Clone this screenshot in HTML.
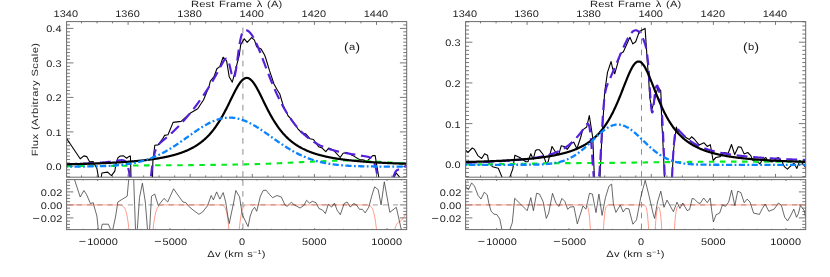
<!DOCTYPE html>
<html><head><meta charset="utf-8"><title>Spectral fits</title>
<style>html,body{margin:0;padding:0;background:#fff}svg{display:block}</style></head>
<body>
<svg width="830" height="277" viewBox="0 0 830 277" font-family="Liberation Sans, sans-serif" fill="#1c1c1c" text-rendering="geometricPrecision">
<rect width="830" height="277" fill="#fff"/>
<clipPath id="c0"><rect x="66.6" y="21.6" width="340.1" height="155.6"/></clipPath>
<clipPath id="r0"><rect x="66.6" y="179.6" width="340.1" height="50"/></clipPath>
<path d="M81.53 21.6 v1.8 M81.53 177.2 v-1.8 M97.05 21.6 v1.8 M97.05 177.2 v-1.8 M112.58 21.6 v1.8 M112.58 177.2 v-1.8 M128.1 21.6 v3.3 M128.1 177.2 v-3.3 M143.62 21.6 v1.8 M143.62 177.2 v-1.8 M159.15 21.6 v1.8 M159.15 177.2 v-1.8 M174.68 21.6 v1.8 M174.68 177.2 v-1.8 M190.2 21.6 v3.3 M190.2 177.2 v-3.3 M205.73 21.6 v1.8 M205.73 177.2 v-1.8 M221.25 21.6 v1.8 M221.25 177.2 v-1.8 M236.78 21.6 v1.8 M236.78 177.2 v-1.8 M252.3 21.6 v3.3 M252.3 177.2 v-3.3 M267.82 21.6 v1.8 M267.82 177.2 v-1.8 M283.35 21.6 v1.8 M283.35 177.2 v-1.8 M298.88 21.6 v1.8 M298.88 177.2 v-1.8 M314.4 21.6 v3.3 M314.4 177.2 v-3.3 M329.93 21.6 v1.8 M329.93 177.2 v-1.8 M345.45 21.6 v1.8 M345.45 177.2 v-1.8 M360.98 21.6 v1.8 M360.98 177.2 v-1.8 M376.5 21.6 v3.3 M376.5 177.2 v-3.3 M392.02 21.6 v1.8 M392.02 177.2 v-1.8 M68.66 179.6 v0.8 M68.66 229.6 v-0.8 M83.13 179.6 v0.8 M83.13 229.6 v-0.8 M97.6 179.6 v1.4 M97.6 229.6 v-1.4 M112.07 179.6 v0.8 M112.07 229.6 v-0.8 M126.54 179.6 v0.8 M126.54 229.6 v-0.8 M141.01 179.6 v0.8 M141.01 229.6 v-0.8 M155.48 179.6 v0.8 M155.48 229.6 v-0.8 M169.95 179.6 v1.4 M169.95 229.6 v-1.4 M184.42 179.6 v0.8 M184.42 229.6 v-0.8 M198.89 179.6 v0.8 M198.89 229.6 v-0.8 M213.36 179.6 v0.8 M213.36 229.6 v-0.8 M227.83 179.6 v0.8 M227.83 229.6 v-0.8 M242.3 179.6 v1.4 M242.3 229.6 v-1.4 M256.77 179.6 v0.8 M256.77 229.6 v-0.8 M271.24 179.6 v0.8 M271.24 229.6 v-0.8 M285.71 179.6 v0.8 M285.71 229.6 v-0.8 M300.18 179.6 v0.8 M300.18 229.6 v-0.8 M314.65 179.6 v1.4 M314.65 229.6 v-1.4 M329.12 179.6 v0.8 M329.12 229.6 v-0.8 M343.59 179.6 v0.8 M343.59 229.6 v-0.8 M358.06 179.6 v0.8 M358.06 229.6 v-0.8 M372.53 179.6 v0.8 M372.53 229.6 v-0.8 M387 179.6 v1.4 M387 229.6 v-1.4 M401.47 179.6 v0.8 M401.47 229.6 v-0.8 M66.6 176.75 h3.4 M406.7 176.75 h-3.4 M66.6 173.3 h3.4 M406.7 173.3 h-3.4 M66.6 169.85 h3.4 M406.7 169.85 h-3.4 M66.6 166.4 h6.8 M406.7 166.4 h-6.8 M66.6 162.95 h3.4 M406.7 162.95 h-3.4 M66.6 159.5 h3.4 M406.7 159.5 h-3.4 M66.6 156.05 h3.4 M406.7 156.05 h-3.4 M66.6 152.6 h3.4 M406.7 152.6 h-3.4 M66.6 149.15 h3.4 M406.7 149.15 h-3.4 M66.6 145.7 h3.4 M406.7 145.7 h-3.4 M66.6 142.25 h3.4 M406.7 142.25 h-3.4 M66.6 138.8 h3.4 M406.7 138.8 h-3.4 M66.6 135.35 h3.4 M406.7 135.35 h-3.4 M66.6 131.9 h6.8 M406.7 131.9 h-6.8 M66.6 128.45 h3.4 M406.7 128.45 h-3.4 M66.6 125 h3.4 M406.7 125 h-3.4 M66.6 121.55 h3.4 M406.7 121.55 h-3.4 M66.6 118.1 h3.4 M406.7 118.1 h-3.4 M66.6 114.65 h3.4 M406.7 114.65 h-3.4 M66.6 111.2 h3.4 M406.7 111.2 h-3.4 M66.6 107.75 h3.4 M406.7 107.75 h-3.4 M66.6 104.3 h3.4 M406.7 104.3 h-3.4 M66.6 100.85 h3.4 M406.7 100.85 h-3.4 M66.6 97.4 h6.8 M406.7 97.4 h-6.8 M66.6 93.95 h3.4 M406.7 93.95 h-3.4 M66.6 90.5 h3.4 M406.7 90.5 h-3.4 M66.6 87.05 h3.4 M406.7 87.05 h-3.4 M66.6 83.6 h3.4 M406.7 83.6 h-3.4 M66.6 80.15 h3.4 M406.7 80.15 h-3.4 M66.6 76.7 h3.4 M406.7 76.7 h-3.4 M66.6 73.25 h3.4 M406.7 73.25 h-3.4 M66.6 69.8 h3.4 M406.7 69.8 h-3.4 M66.6 66.35 h3.4 M406.7 66.35 h-3.4 M66.6 62.9 h6.8 M406.7 62.9 h-6.8 M66.6 59.45 h3.4 M406.7 59.45 h-3.4 M66.6 56 h3.4 M406.7 56 h-3.4 M66.6 52.55 h3.4 M406.7 52.55 h-3.4 M66.6 49.1 h3.4 M406.7 49.1 h-3.4 M66.6 45.65 h3.4 M406.7 45.65 h-3.4 M66.6 42.2 h3.4 M406.7 42.2 h-3.4 M66.6 38.75 h3.4 M406.7 38.75 h-3.4 M66.6 35.3 h3.4 M406.7 35.3 h-3.4 M66.6 31.85 h3.4 M406.7 31.85 h-3.4 M66.6 28.4 h6.8 M406.7 28.4 h-6.8 M66.6 24.95 h3.4 M406.7 24.95 h-3.4 M66.6 227.65 h3.4 M406.7 227.65 h-3.4 M66.6 224.4 h3.4 M406.7 224.4 h-3.4 M66.6 221.15 h3.4 M406.7 221.15 h-3.4 M66.6 217.9 h6.8 M406.7 217.9 h-6.8 M66.6 214.65 h3.4 M406.7 214.65 h-3.4 M66.6 211.4 h3.4 M406.7 211.4 h-3.4 M66.6 208.15 h3.4 M406.7 208.15 h-3.4 M66.6 204.9 h6.8 M406.7 204.9 h-6.8 M66.6 201.65 h3.4 M406.7 201.65 h-3.4 M66.6 198.4 h3.4 M406.7 198.4 h-3.4 M66.6 195.15 h3.4 M406.7 195.15 h-3.4 M66.6 191.9 h6.8 M406.7 191.9 h-6.8 M66.6 188.65 h3.4 M406.7 188.65 h-3.4 M66.6 185.4 h3.4 M406.7 185.4 h-3.4 M66.6 182.15 h3.4 M406.7 182.15 h-3.4" stroke="#6a6a6a" stroke-width="0.9" fill="none"/>
<g clip-path="url(#c0)" fill="none" stroke-linejoin="round">
<path d="M242.9 27.5 V177.2" stroke="#8e8e8e" stroke-width="1" stroke-dasharray="5.7 5.35"/>
<path d="M66.6 138.5 L80.2 158.8 L83.9 155.9 L86.7 156.6 L89.6 161.7 L93.3 161.6 L94 163.2 L96.9 168.5 L98.3 176.5 L99.7 182 L101.2 177.5 L101.9 173 L107.7 172.1 L110 174.3 L111.5 175.6 L114.8 171.1 L116 164 L118 157.6 L120.3 156 L123.6 155.9 L126.7 158.2 L129.1 156.4 L130.4 156 L131 176.7 L131.4 200 L152.1 200 L152.5 176.7 L152.9 160.8 L154.8 145.2 L158.1 144.9 L162.8 138.7 L164.5 135.4 L168 134.7 L173.1 122.4 L181.1 121.4 L190.5 113 L197.7 108.7 L203.5 100 L208.9 86.8 L210.4 81 L214 76.7 L216.9 68.7 L219.8 66.6 L223.1 57.2 L226.6 60.8 L229.2 76.7 L232.3 82.2 L234.9 72.3 L239.3 55 L240.7 44.6 L244.3 38.8 L247.2 42.4 L251.6 37.6 L254.5 40.2 L256.6 46.7 L261 48.9 L264.6 55 L266 59 L269.6 70.9 L274 84 L277.3 90 L279.8 94 L283.1 105.2 L288.2 116 L291.1 118.9 L297.9 128.8 L301.9 133 L305.5 133.7 L309.9 138.7 L313.5 139.5 L318.6 146.7 L322.2 148.1 L325.8 151.7 L328.7 148.1 L333.7 150.3 L340.2 157.5 L343.1 153.2 L346.7 152.5 L352.5 155.4 L359.8 159.7 L362.6 159.7 L367 161.1 L370.2 158.1 L372.7 155.6 L375.2 155.6 L376.2 162.1 L378.7 176.8 L380 195 L392 195 L394.3 177 L396.2 173 L399.4 176.8 L402 186 L407 192" stroke="#000" stroke-width="1.1"/>
<path d="M66.6 166.1 L67.1 166.1 L67.6 166.1 L68.1 166.09 L68.6 166.09 L69.1 166.09 L69.6 166.09 L70.1 166.09 L70.6 166.09 L71.1 166.09 L71.6 166.09 L72.1 166.09 L72.6 166.09 L73.1 166.09 L73.6 166.09 L74.1 166.09 L74.6 166.08 L75.1 166.08 L75.6 166.08 L76.1 166.08 L76.6 166.08 L77.1 166.08 L77.6 166.08 L78.1 166.08 L78.6 166.08 L79.1 166.07 L79.6 166.07 L80.1 166.07 L80.6 166.07 L81.1 166.07 L81.6 166.07 L82.1 166.07 L82.6 166.06 L83.1 166.06 L83.6 166.06 L84.1 166.06 L84.6 166.06 L85.1 166.06 L85.6 166.05 L86.1 166.05 L86.6 166.05 L87.1 166.05 L87.6 166.05 L88.1 166.05 L88.6 166.04 L89.1 166.04 L89.6 166.04 L90.1 166.04 L90.6 166.04 L91.1 166.04 L91.6 166.03 L92.1 166.03 L92.6 166.03 L93.1 166.03 L93.6 166.03 L94.1 166.02 L94.6 166.02 L95.1 166.02 L95.6 166.02 L96.1 166.02 L96.6 166.01 L97.1 166.01 L97.6 166.01 L98.1 166.01 L98.6 166.01 L99.1 166 L99.6 166 L100.1 166 L100.6 166 L101.1 165.99 L101.6 165.99 L102.1 165.99 L102.6 165.99 L103.1 165.98 L103.6 165.98 L104.1 165.98 L104.6 165.97 L105.1 165.97 L105.6 165.96 L106.1 165.96 L106.6 165.96 L107.1 165.95 L107.6 165.95 L108.1 165.94 L108.6 165.94 L109.1 165.93 L109.6 165.93 L110.1 165.92 L110.6 165.91 L111.1 165.91 L111.6 165.9 L112.1 165.9 L112.6 165.89 L113.1 165.89 L113.6 165.88 L114.1 165.87 L114.6 165.87 L115.1 165.86 L115.6 165.86 L116.1 165.85 L116.6 165.84 L117.1 165.84 L117.6 165.83 L118.1 165.82 L118.6 165.82 L119.1 165.81 L119.6 165.81 L120.1 165.8 L120.6 165.79 L121.1 165.78 L121.6 165.78 L122.1 165.77 L122.6 165.76 L123.1 165.75 L123.6 165.74 L124.1 165.73 L124.6 165.72 L125.1 165.71 L125.6 165.7 L126.1 165.69 L126.6 165.68 L127.1 165.67 L127.6 165.66 L128.1 165.65 L128.6 165.64 L129.1 165.63 L129.6 165.62 L130.1 165.61 L130.6 165.6 L131.1 165.59 L131.6 165.58 L132.1 165.56 L132.6 165.55 L133.1 165.54 L133.6 165.53 L134.1 165.52 L134.6 165.51 L135.1 165.5 L135.6 165.49 L136.1 165.48 L136.6 165.47 L137.1 165.47 L137.6 165.46 L138.1 165.45 L138.6 165.44 L139.1 165.43 L139.6 165.43 L140.1 165.42 L140.6 165.41 L141.1 165.41 L141.6 165.4 L142.1 165.4 L142.6 165.39 L143.1 165.39 L143.6 165.39 L144.1 165.38 L144.6 165.38 L145.1 165.38 L145.6 165.37 L146.1 165.37 L146.6 165.36 L147.1 165.36 L147.6 165.36 L148.1 165.35 L148.6 165.35 L149.1 165.35 L149.6 165.35 L150.1 165.34 L150.6 165.34 L151.1 165.34 L151.6 165.33 L152.1 165.33 L152.6 165.33 L153.1 165.33 L153.6 165.32 L154.1 165.32 L154.6 165.32 L155.1 165.32 L155.6 165.31 L156.1 165.31 L156.6 165.31 L157.1 165.31 L157.6 165.31 L158.1 165.3 L158.6 165.3 L159.1 165.3 L159.6 165.3 L160.1 165.3 L160.6 165.29 L161.1 165.29 L161.6 165.29 L162.1 165.29 L162.6 165.29 L163.1 165.28 L163.6 165.28 L164.1 165.28 L164.6 165.28 L165.1 165.28 L165.6 165.27 L166.1 165.27 L166.6 165.27 L167.1 165.27 L167.6 165.27 L168.1 165.26 L168.6 165.26 L169.1 165.26 L169.6 165.26 L170.1 165.25 L170.6 165.25 L171.1 165.25 L171.6 165.25 L172.1 165.25 L172.6 165.24 L173.1 165.24 L173.6 165.24 L174.1 165.24 L174.6 165.23 L175.1 165.23 L175.6 165.23 L176.1 165.22 L176.6 165.22 L177.1 165.22 L177.6 165.22 L178.1 165.21 L178.6 165.21 L179.1 165.21 L179.6 165.2 L180.1 165.2 L180.6 165.2 L181.1 165.19 L181.6 165.19 L182.1 165.19 L182.6 165.18 L183.1 165.18 L183.6 165.17 L184.1 165.17 L184.6 165.17 L185.1 165.16 L185.6 165.16 L186.1 165.16 L186.6 165.15 L187.1 165.15 L187.6 165.14 L188.1 165.14 L188.6 165.14 L189.1 165.13 L189.6 165.13 L190.1 165.12 L190.6 165.12 L191.1 165.11 L191.6 165.11 L192.1 165.11 L192.6 165.1 L193.1 165.1 L193.6 165.09 L194.1 165.09 L194.6 165.08 L195.1 165.08 L195.6 165.07 L196.1 165.07 L196.6 165.07 L197.1 165.06 L197.6 165.06 L198.1 165.05 L198.6 165.05 L199.1 165.04 L199.6 165.04 L200.1 165.03 L200.6 165.03 L201.1 165.02 L201.6 165.02 L202.1 165.01 L202.6 165.01 L203.1 165 L203.6 165 L204.1 164.99 L204.6 164.98 L205.1 164.98 L205.6 164.97 L206.1 164.97 L206.6 164.96 L207.1 164.96 L207.6 164.95 L208.1 164.95 L208.6 164.94 L209.1 164.93 L209.6 164.93 L210.1 164.92 L210.6 164.92 L211.1 164.91 L211.6 164.91 L212.1 164.9 L212.6 164.89 L213.1 164.89 L213.6 164.88 L214.1 164.88 L214.6 164.87 L215.1 164.86 L215.6 164.86 L216.1 164.85 L216.6 164.84 L217.1 164.84 L217.6 164.83 L218.1 164.83 L218.6 164.82 L219.1 164.81 L219.6 164.81 L220.1 164.8 L220.6 164.79 L221.1 164.79 L221.6 164.78 L222.1 164.77 L222.6 164.76 L223.1 164.76 L223.6 164.75 L224.1 164.74 L224.6 164.74 L225.1 164.73 L225.6 164.72 L226.1 164.71 L226.6 164.71 L227.1 164.7 L227.6 164.69 L228.1 164.68 L228.6 164.67 L229.1 164.67 L229.6 164.66 L230.1 164.65 L230.6 164.64 L231.1 164.63 L231.6 164.63 L232.1 164.62 L232.6 164.61 L233.1 164.6 L233.6 164.59 L234.1 164.58 L234.6 164.57 L235.1 164.56 L235.6 164.56 L236.1 164.55 L236.6 164.54 L237.1 164.53 L237.6 164.52 L238.1 164.51 L238.6 164.5 L239.1 164.49 L239.6 164.48 L240.1 164.47 L240.6 164.46 L241.1 164.45 L241.6 164.44 L242.1 164.43 L242.6 164.42 L243.1 164.41 L243.6 164.4 L244.1 164.39 L244.6 164.38 L245.1 164.37 L245.6 164.36 L246.1 164.34 L246.6 164.33 L247.1 164.32 L247.6 164.31 L248.1 164.3 L248.6 164.29 L249.1 164.28 L249.6 164.27 L250.1 164.25 L250.6 164.24 L251.1 164.23 L251.6 164.22 L252.1 164.21 L252.6 164.19 L253.1 164.18 L253.6 164.17 L254.1 164.16 L254.6 164.14 L255.1 164.13 L255.6 164.12 L256.1 164.1 L256.6 164.09 L257.1 164.08 L257.6 164.07 L258.1 164.05 L258.6 164.04 L259.1 164.02 L259.6 164.01 L260.1 164 L260.6 163.98 L261.1 163.97 L261.6 163.95 L262.1 163.94 L262.6 163.92 L263.1 163.91 L263.6 163.89 L264.1 163.87 L264.6 163.86 L265.1 163.84 L265.6 163.82 L266.1 163.8 L266.6 163.78 L267.1 163.76 L267.6 163.74 L268.1 163.72 L268.6 163.7 L269.1 163.68 L269.6 163.66 L270.1 163.64 L270.6 163.62 L271.1 163.6 L271.6 163.58 L272.1 163.56 L272.6 163.53 L273.1 163.51 L273.6 163.49 L274.1 163.47 L274.6 163.44 L275.1 163.42 L275.6 163.4 L276.1 163.37 L276.6 163.35 L277.1 163.33 L277.6 163.3 L278.1 163.28 L278.6 163.25 L279.1 163.23 L279.6 163.2 L280.1 163.18 L280.6 163.16 L281.1 163.13 L281.6 163.11 L282.1 163.08 L282.6 163.06 L283.1 163.03 L283.6 163 L284.1 162.98 L284.6 162.95 L285.1 162.93 L285.6 162.9 L286.1 162.88 L286.6 162.85 L287.1 162.83 L287.6 162.8 L288.1 162.78 L288.6 162.75 L289.1 162.73 L289.6 162.7 L290.1 162.68 L290.6 162.65 L291.1 162.63 L291.6 162.6 L292.1 162.58 L292.6 162.55 L293.1 162.53 L293.6 162.5 L294.1 162.48 L294.6 162.45 L295.1 162.43 L295.6 162.4 L296.1 162.38 L296.6 162.36 L297.1 162.33 L297.6 162.31 L298.1 162.29 L298.6 162.26 L299.1 162.24 L299.6 162.22 L300.1 162.2 L300.6 162.17 L301.1 162.15 L301.6 162.13 L302.1 162.11 L302.6 162.08 L303.1 162.06 L303.6 162.04 L304.1 162.01 L304.6 161.99 L305.1 161.97 L305.6 161.94 L306.1 161.92 L306.6 161.9 L307.1 161.87 L307.6 161.85 L308.1 161.83 L308.6 161.81 L309.1 161.78 L309.6 161.76 L310.1 161.74 L310.6 161.72 L311.1 161.69 L311.6 161.67 L312.1 161.65 L312.6 161.63 L313.1 161.6 L313.6 161.58 L314.1 161.56 L314.6 161.54 L315.1 161.52 L315.6 161.5 L316.1 161.48 L316.6 161.46 L317.1 161.44 L317.6 161.42 L318.1 161.4 L318.6 161.38 L319.1 161.36 L319.6 161.34 L320.1 161.31 L320.6 161.29 L321.1 161.27 L321.6 161.25 L322.1 161.23 L322.6 161.2 L323.1 161.18 L323.6 161.16 L324.1 161.14 L324.6 161.11 L325.1 161.09 L325.6 161.07 L326.1 161.04 L326.6 161.02 L327.1 161 L327.6 160.98 L328.1 160.95 L328.6 160.93 L329.1 160.91 L329.6 160.88 L330.1 160.86 L330.6 160.84 L331.1 160.82 L331.6 160.8 L332.1 160.77 L332.6 160.75 L333.1 160.73 L333.6 160.71 L334.1 160.69 L334.6 160.67 L335.1 160.65 L335.6 160.64 L336.1 160.62 L336.6 160.6 L337.1 160.58 L337.6 160.57 L338.1 160.55 L338.6 160.54 L339.1 160.52 L339.6 160.51 L340.1 160.49 L340.6 160.48 L341.1 160.47 L341.6 160.46 L342.1 160.45 L342.6 160.44 L343.1 160.43 L343.6 160.42 L344.1 160.42 L344.6 160.41 L345.1 160.41 L345.6 160.4 L346.1 160.4 L346.6 160.4 L347.1 160.4 L347.6 160.4 L348.1 160.4 L348.6 160.41 L349.1 160.41 L349.6 160.42 L350.1 160.42 L350.6 160.43 L351.1 160.44 L351.6 160.45 L352.1 160.46 L352.6 160.47 L353.1 160.48 L353.6 160.5 L354.1 160.51 L354.6 160.53 L355.1 160.55 L355.6 160.56 L356.1 160.58 L356.6 160.6 L357.1 160.62 L357.6 160.64 L358.1 160.66 L358.6 160.68 L359.1 160.7 L359.6 160.73 L360.1 160.75 L360.6 160.78 L361.1 160.8 L361.6 160.83 L362.1 160.85 L362.6 160.88 L363.1 160.9 L363.6 160.93 L364.1 160.96 L364.6 160.99 L365.1 161.02 L365.6 161.04 L366.1 161.07 L366.6 161.1 L367.1 161.13 L367.6 161.16 L368.1 161.19 L368.6 161.22 L369.1 161.25 L369.6 161.28 L370.1 161.31 L370.6 161.34 L371.1 161.37 L371.6 161.4 L372.1 161.44 L372.6 161.47 L373.1 161.5 L373.6 161.53 L374.1 161.56 L374.6 161.59 L375.1 161.62 L375.6 161.65 L376.1 161.68 L376.6 161.71 L377.1 161.74 L377.6 161.77 L378.1 161.79 L378.6 161.82 L379.1 161.85 L379.6 161.88 L380.1 161.91 L380.6 161.93 L381.1 161.96 L381.6 161.99 L382.1 162.02 L382.6 162.04 L383.1 162.07 L383.6 162.1 L384.1 162.13 L384.6 162.16 L385.1 162.19 L385.6 162.22 L386.1 162.25 L386.6 162.28 L387.1 162.31 L387.6 162.34 L388.1 162.37 L388.6 162.4 L389.1 162.43 L389.6 162.46 L390.1 162.5 L390.6 162.53 L391.1 162.56 L391.6 162.59 L392.1 162.62 L392.6 162.66 L393.1 162.69 L393.6 162.72 L394.1 162.76 L394.6 162.79 L395.1 162.82 L395.6 162.86 L396.1 162.89 L396.6 162.92 L397.1 162.96 L397.6 162.99 L398.1 163.03 L398.6 163.06 L399.1 163.1 L399.6 163.13 L400.1 163.17 L400.6 163.2 L401.1 163.24 L401.6 163.27 L402.1 163.31 L402.6 163.35 L403.1 163.38 L403.6 163.42 L404.1 163.46 L404.6 163.49 L405.1 163.53 L405.6 163.57 L406.1 163.6 L406.6 163.64" stroke="#04ec20" stroke-width="2.1" stroke-dasharray="5.5 5.56"/>
<path d="M66.6 164.19 L67.1 164.18 L67.6 164.17 L68.1 164.15 L68.6 164.14 L69.1 164.13 L69.6 164.11 L70.1 164.1 L70.6 164.08 L71.1 164.07 L71.6 164.05 L72.1 164.04 L72.6 164.02 L73.1 164.01 L73.6 163.99 L74.1 163.98 L74.6 163.96 L75.1 163.94 L75.6 163.93 L76.1 163.91 L76.6 163.89 L77.1 163.88 L77.6 163.86 L78.1 163.84 L78.6 163.82 L79.1 163.81 L79.6 163.79 L80.1 163.77 L80.6 163.75 L81.1 163.73 L81.6 163.71 L82.1 163.69 L82.6 163.67 L83.1 163.65 L83.6 163.63 L84.1 163.61 L84.6 163.58 L85.1 163.56 L85.6 163.54 L86.1 163.52 L86.6 163.49 L87.1 163.47 L87.6 163.45 L88.1 163.42 L88.6 163.4 L89.1 163.37 L89.6 163.35 L90.1 163.32 L90.6 163.29 L91.1 163.27 L91.6 163.24 L92.1 163.21 L92.6 163.18 L93.1 163.15 L93.6 163.12 L94.1 163.09 L94.6 163.06 L95.1 163.03 L95.6 163 L96.1 162.97 L96.6 162.94 L97.1 162.9 L97.6 162.87 L98.1 162.83 L98.6 162.8 L99.1 162.76 L99.6 162.72 L100.1 162.69 L100.6 162.65 L101.1 162.61 L101.6 162.57 L102.1 162.53 L102.6 162.48 L103.1 162.44 L103.6 162.4 L104.1 162.35 L104.6 162.3 L105.1 162.26 L105.6 162.21 L106.1 162.16 L106.6 162.11 L107.1 162.05 L107.6 162 L108.1 161.94 L108.6 161.89 L109.1 161.83 L109.6 161.77 L110.1 161.71 L110.6 161.65 L111.1 161.59 L111.6 161.52 L112.1 161.46 L112.6 161.39 L113.1 161.32 L113.6 161.25 L114.1 161.18 L114.6 161.11 L115.1 161.03 L115.6 160.95 L116.1 160.88 L116.6 160.8 L117.1 160.72 L117.6 160.64 L118.1 160.56 L118.6 160.49 L119.1 160.41 L119.6 160.34 L120.1 160.28 L120.6 160.23 L121.1 160.19 L121.6 160.16 L122.1 160.17 L122.6 160.2 L123.1 160.28 L123.6 160.41 L124.1 160.61 L124.6 160.9 L125.1 161.3 L125.6 161.83 L126.1 162.52 L126.6 163.41 L127.1 164.52 L127.6 165.89 L128.1 167.57 L128.6 169.59 L129.1 171.99 L129.6 174.82 L130.1 178.12 L130.6 181.9" stroke="#5520dc" stroke-width="2.15" stroke-dasharray="10.9 5.7" stroke-dashoffset="0"/>
<path d="M150.6 180.58 L151.1 175.51 L151.6 170.96 L152.1 166.92 L152.6 163.37 L153.1 160.26 L153.6 157.56 L154.1 155.23 L154.6 153.22 L155.1 151.5 L155.6 150.03 L156.1 148.76 L156.6 147.68 L157.1 146.74 L157.6 145.92 L158.1 145.21 L158.6 144.57 L159.1 143.99 L159.6 143.46 L160.1 142.97 L160.6 142.51 L161.1 142.06 L161.6 141.64 L162.1 141.22 L162.6 140.8 L163.1 140.39 L163.6 139.99 L164.1 139.58 L164.6 139.17 L165.1 138.76 L165.6 138.35 L166.1 137.93 L166.6 137.51 L167.1 137.09 L167.6 136.66 L168.1 136.23 L168.6 135.79 L169.1 135.35 L169.6 134.91 L170.1 134.46 L170.6 134.01 L171.1 133.55 L171.6 133.09 L172.1 132.63 L172.6 132.16 L173.1 131.69 L173.6 131.21 L174.1 130.73 L174.6 130.25 L175.1 129.76 L175.6 129.27 L176.1 128.77 L176.6 128.27 L177.1 127.76 L177.6 127.25 L178.1 126.74 L178.6 126.22 L179.1 125.7 L179.6 125.18 L180.1 124.65 L180.6 124.11 L181.1 123.57 L181.6 123.03 L182.1 122.49 L182.6 121.94 L183.1 121.38 L183.6 120.83 L184.1 120.26 L184.6 119.7 L185.1 119.13 L185.6 118.56 L186.1 117.98 L186.6 117.4 L187.1 116.81 L187.6 116.22 L188.1 115.63 L188.6 115.03 L189.1 114.43 L189.6 113.83 L190.1 113.22 L190.6 112.6 L191.1 111.98 L191.6 111.36 L192.1 110.74 L192.6 110.11 L193.1 109.47 L193.6 108.84 L194.1 108.19 L194.6 107.55 L195.1 106.9 L195.6 106.24 L196.1 105.58 L196.6 104.92 L197.1 104.25 L197.6 103.58 L198.1 102.9 L198.6 102.22 L199.1 101.53 L199.6 100.84 L200.1 100.15 L200.6 99.45 L201.1 98.74 L201.6 98.03 L202.1 97.31 L202.6 96.59 L203.1 95.87 L203.6 95.14 L204.1 94.4 L204.6 93.66 L205.1 92.91 L205.6 92.16 L206.1 91.4 L206.6 90.64 L207.1 89.87 L207.6 89.09 L208.1 88.31 L208.6 87.52 L209.1 86.73 L209.6 85.93 L210.1 85.12 L210.6 84.3 L211.1 83.48 L211.6 82.66 L212.1 81.82 L212.6 80.98 L213.1 80.13 L213.6 79.27 L214.1 78.41 L214.6 77.54 L215.1 76.66 L215.6 75.78 L216.1 74.89 L216.6 73.99 L217.1 73.08 L217.6 72.17 L218.1 71.25 L218.6 70.32 L219.1 69.39 L219.6 68.45 L220.1 67.51 L220.6 66.57 L221.1 65.62 L221.6 64.69 L222.1 63.76 L222.6 62.86 L223.1 61.99 L223.6 61.16 L224.1 60.41 L224.6 59.75 L225.1 59.21 L225.6 58.83 L226.1 58.64 L226.6 58.69 L227.1 59.02 L227.6 59.65 L228.1 60.6 L228.6 61.88 L229.1 63.47 L229.6 65.33 L230.1 67.39 L230.6 69.57 L231.1 71.74 L231.6 73.78 L232.1 75.54 L232.6 76.89 L233.1 77.7 L233.6 77.89 L234.1 77.39 L234.6 76.19 L235.1 74.3 L235.6 71.78 L236.1 68.75 L236.6 65.32 L237.1 61.63 L237.6 57.82 L238.1 54.03 L238.6 50.39 L239.1 46.97 L239.6 43.86 L240.1 41.1 L240.6 38.7 L241.1 36.67 L241.6 34.99 L242.1 33.62 L242.6 32.54 L243.1 31.71 L243.6 31.08 L244.1 30.64 L244.6 30.34 L245.1 30.17 L245.6 30.11 L246.1 30.14 L246.6 30.25 L247.1 30.43 L247.6 30.67 L248.1 30.98 L248.6 31.35 L249.1 31.78 L249.6 32.26 L250.1 32.8 L250.6 33.38 L251.1 34.02 L251.6 34.71 L252.1 35.44 L252.6 36.23 L253.1 37.05 L253.6 37.92 L254.1 38.83 L254.6 39.78 L255.1 40.77 L255.6 41.79 L256.1 42.85 L256.6 43.94 L257.1 45.06 L257.6 46.2 L258.1 47.37 L258.6 48.57 L259.1 49.78 L259.6 51.02 L260.1 52.27 L260.6 53.53 L261.1 54.81 L261.6 56.1 L262.1 57.4 L262.6 58.71 L263.1 60.02 L263.6 61.34 L264.1 62.66 L264.6 63.98 L265.1 65.3 L265.6 66.62 L266.1 67.94 L266.6 69.26 L267.1 70.57 L267.6 71.87 L268.1 73.17 L268.6 74.46 L269.1 75.74 L269.6 77.01 L270.1 78.27 L270.6 79.52 L271.1 80.76 L271.6 81.99 L272.1 83.21 L272.6 84.41 L273.1 85.61 L273.6 86.79 L274.1 87.95 L274.6 89.1 L275.1 90.24 L275.6 91.36 L276.1 92.47 L276.6 93.57 L277.1 94.65 L277.6 95.72 L278.1 96.77 L278.6 97.81 L279.1 98.83 L279.6 99.84 L280.1 100.84 L280.6 101.82 L281.1 102.79 L281.6 103.74 L282.1 104.68 L282.6 105.61 L283.1 106.52 L283.6 107.42 L284.1 108.31 L284.6 109.18 L285.1 110.04 L285.6 110.89 L286.1 111.72 L286.6 112.54 L287.1 113.35 L287.6 114.15 L288.1 114.93 L288.6 115.7 L289.1 116.46 L289.6 117.21 L290.1 117.95 L290.6 118.67 L291.1 119.39 L291.6 120.09 L292.1 120.78 L292.6 121.46 L293.1 122.13 L293.6 122.79 L294.1 123.44 L294.6 124.08 L295.1 124.71 L295.6 125.33 L296.1 125.93 L296.6 126.53 L297.1 127.12 L297.6 127.7 L298.1 128.27 L298.6 128.83 L299.1 129.38 L299.6 129.92 L300.1 130.46 L300.6 130.98 L301.1 131.49 L301.6 132 L302.1 132.5 L302.6 132.99 L303.1 133.46 L303.6 133.94 L304.1 134.4 L304.6 134.85 L305.1 135.3 L305.6 135.74 L306.1 136.17 L306.6 136.59 L307.1 137 L307.6 137.41 L308.1 137.81 L308.6 138.2 L309.1 138.59 L309.6 138.96 L310.1 139.33 L310.6 139.7 L311.1 140.05 L311.6 140.4 L312.1 140.74 L312.6 141.08 L313.1 141.41 L313.6 141.73 L314.1 142.05 L314.6 142.36 L315.1 142.67 L315.6 142.97 L316.1 143.26 L316.6 143.55 L317.1 143.83 L317.6 144.11 L318.1 144.38 L318.6 144.64 L319.1 144.9 L319.6 145.16 L320.1 145.4 L320.6 145.65 L321.1 145.88 L321.6 146.11 L322.1 146.34 L322.6 146.56 L323.1 146.78 L323.6 146.99 L324.1 147.2 L324.6 147.4 L325.1 147.6 L325.6 147.79 L326.1 147.98 L326.6 148.16 L327.1 148.34 L327.6 148.52 L328.1 148.69 L328.6 148.86 L329.1 149.02 L329.6 149.18 L330.1 149.34 L330.6 149.5 L331.1 149.65 L331.6 149.8 L332.1 149.94 L332.6 150.08 L333.1 150.22 L333.6 150.36 L334.1 150.49 L334.6 150.62 L335.1 150.75 L335.6 150.88 L336.1 151 L336.6 151.12 L337.1 151.24 L337.6 151.36 L338.1 151.47 L338.6 151.58 L339.1 151.69 L339.6 151.8 L340.1 151.91 L340.6 152.02 L341.1 152.12 L341.6 152.22 L342.1 152.32 L342.6 152.42 L343.1 152.52 L343.6 152.62 L344.1 152.72 L344.6 152.81 L345.1 152.91 L345.6 153 L346.1 153.09 L346.6 153.19 L347.1 153.28 L347.6 153.37 L348.1 153.46 L348.6 153.55 L349.1 153.64 L349.6 153.73 L350.1 153.82 L350.6 153.9 L351.1 153.99 L351.6 154.08 L352.1 154.16 L352.6 154.25 L353.1 154.34 L353.6 154.42 L354.1 154.51 L354.6 154.59 L355.1 154.68 L355.6 154.76 L356.1 154.84 L356.6 154.93 L357.1 155.01 L357.6 155.09 L358.1 155.17 L358.6 155.26 L359.1 155.34 L359.6 155.42 L360.1 155.5 L360.6 155.58 L361.1 155.66 L361.6 155.74 L362.1 155.82 L362.6 155.89 L363.1 155.97 L363.6 156.05 L364.1 156.13 L364.6 156.21 L365.1 156.29 L365.6 156.38 L366.1 156.46 L366.6 156.55 L367.1 156.65 L367.6 156.75 L368.1 156.87 L368.6 157 L369.1 157.16 L369.6 157.34 L370.1 157.56 L370.6 157.84 L371.1 158.17 L371.6 158.58 L372.1 159.08 L372.6 159.7 L373.1 160.45 L373.6 161.36 L374.1 162.46 L374.6 163.76 L375.1 165.3 L375.6 167.09 L376.1 169.15 L376.6 171.49 L377.1 174.11 L377.6 177.01 L378.1 180.18" stroke="#5520dc" stroke-width="2.15" stroke-dasharray="10.9 5.7" stroke-dashoffset="12.44"/>
<path d="M392.6 180.88 L393.1 178.62 L393.6 176.67 L394.1 175.01 L394.6 173.64 L395.1 172.52 L395.6 171.65 L396.1 170.98 L396.6 170.48 L397.1 170.12 L397.6 169.87 L398.1 169.69 L398.6 169.57 L399.1 169.47 L399.6 169.38 L400.1 169.27 L400.6 169.14 L401.1 168.98 L401.6 168.78 L402.1 168.55 L402.6 168.27 L403.1 167.96 L403.6 167.61 L404.1 167.24 L404.6 166.85 L405.1 166.45 L405.6 166.04 L406.1 165.64 L406.6 165.24" stroke="#5520dc" stroke-width="2.15" stroke-dasharray="10.9 5.7" stroke-dashoffset="13.48"/>
<path d="M66.6 164.31 L67.1 164.3 L67.6 164.29 L68.1 164.28 L68.6 164.27 L69.1 164.26 L69.6 164.24 L70.1 164.23 L70.6 164.22 L71.1 164.21 L71.6 164.2 L72.1 164.18 L72.6 164.17 L73.1 164.16 L73.6 164.15 L74.1 164.13 L74.6 164.12 L75.1 164.11 L75.6 164.09 L76.1 164.08 L76.6 164.07 L77.1 164.05 L77.6 164.04 L78.1 164.03 L78.6 164.01 L79.1 164 L79.6 163.99 L80.1 163.97 L80.6 163.96 L81.1 163.94 L81.6 163.93 L82.1 163.91 L82.6 163.9 L83.1 163.88 L83.6 163.87 L84.1 163.85 L84.6 163.84 L85.1 163.82 L85.6 163.81 L86.1 163.79 L86.6 163.78 L87.1 163.76 L87.6 163.74 L88.1 163.73 L88.6 163.71 L89.1 163.7 L89.6 163.68 L90.1 163.66 L90.6 163.65 L91.1 163.63 L91.6 163.61 L92.1 163.59 L92.6 163.58 L93.1 163.56 L93.6 163.54 L94.1 163.52 L94.6 163.5 L95.1 163.48 L95.6 163.47 L96.1 163.45 L96.6 163.43 L97.1 163.41 L97.6 163.39 L98.1 163.37 L98.6 163.35 L99.1 163.33 L99.6 163.31 L100.1 163.29 L100.6 163.27 L101.1 163.25 L101.6 163.23 L102.1 163.21 L102.6 163.18 L103.1 163.16 L103.6 163.14 L104.1 163.12 L104.6 163.1 L105.1 163.07 L105.6 163.05 L106.1 163.03 L106.6 163.01 L107.1 162.98 L107.6 162.96 L108.1 162.93 L108.6 162.91 L109.1 162.89 L109.6 162.86 L110.1 162.84 L110.6 162.81 L111.1 162.79 L111.6 162.76 L112.1 162.73 L112.6 162.71 L113.1 162.68 L113.6 162.65 L114.1 162.63 L114.6 162.6 L115.1 162.57 L115.6 162.54 L116.1 162.52 L116.6 162.49 L117.1 162.46 L117.6 162.43 L118.1 162.4 L118.6 162.37 L119.1 162.34 L119.6 162.31 L120.1 162.28 L120.6 162.25 L121.1 162.22 L121.6 162.18 L122.1 162.15 L122.6 162.12 L123.1 162.09 L123.6 162.05 L124.1 162.02 L124.6 161.99 L125.1 161.95 L125.6 161.92 L126.1 161.88 L126.6 161.84 L127.1 161.81 L127.6 161.77 L128.1 161.74 L128.6 161.7 L129.1 161.66 L129.6 161.62 L130.1 161.58 L130.6 161.54 L131.1 161.5 L131.6 161.46 L132.1 161.42 L132.6 161.38 L133.1 161.34 L133.6 161.3 L134.1 161.25 L134.6 161.21 L135.1 161.17 L135.6 161.12 L136.1 161.08 L136.6 161.03 L137.1 160.99 L137.6 160.94 L138.1 160.89 L138.6 160.85 L139.1 160.8 L139.6 160.75 L140.1 160.7 L140.6 160.65 L141.1 160.6 L141.6 160.54 L142.1 160.49 L142.6 160.44 L143.1 160.39 L143.6 160.33 L144.1 160.28 L144.6 160.22 L145.1 160.16 L145.6 160.11 L146.1 160.05 L146.6 159.99 L147.1 159.93 L147.6 159.87 L148.1 159.81 L148.6 159.75 L149.1 159.68 L149.6 159.62 L150.1 159.55 L150.6 159.49 L151.1 159.42 L151.6 159.35 L152.1 159.28 L152.6 159.21 L153.1 159.14 L153.6 159.07 L154.1 159 L154.6 158.93 L155.1 158.85 L155.6 158.78 L156.1 158.7 L156.6 158.62 L157.1 158.54 L157.6 158.46 L158.1 158.38 L158.6 158.3 L159.1 158.21 L159.6 158.13 L160.1 158.04 L160.6 157.95 L161.1 157.86 L161.6 157.77 L162.1 157.68 L162.6 157.59 L163.1 157.49 L163.6 157.39 L164.1 157.3 L164.6 157.2 L165.1 157.1 L165.6 156.99 L166.1 156.89 L166.6 156.78 L167.1 156.68 L167.6 156.57 L168.1 156.45 L168.6 156.34 L169.1 156.23 L169.6 156.11 L170.1 155.99 L170.6 155.87 L171.1 155.75 L171.6 155.62 L172.1 155.5 L172.6 155.37 L173.1 155.23 L173.6 155.1 L174.1 154.97 L174.6 154.83 L175.1 154.69 L175.6 154.54 L176.1 154.4 L176.6 154.25 L177.1 154.1 L177.6 153.95 L178.1 153.79 L178.6 153.63 L179.1 153.47 L179.6 153.3 L180.1 153.14 L180.6 152.97 L181.1 152.79 L181.6 152.62 L182.1 152.44 L182.6 152.25 L183.1 152.06 L183.6 151.87 L184.1 151.68 L184.6 151.48 L185.1 151.28 L185.6 151.08 L186.1 150.87 L186.6 150.65 L187.1 150.44 L187.6 150.22 L188.1 149.99 L188.6 149.76 L189.1 149.53 L189.6 149.29 L190.1 149.04 L190.6 148.79 L191.1 148.54 L191.6 148.28 L192.1 148.02 L192.6 147.75 L193.1 147.47 L193.6 147.19 L194.1 146.91 L194.6 146.62 L195.1 146.32 L195.6 146.02 L196.1 145.71 L196.6 145.39 L197.1 145.07 L197.6 144.74 L198.1 144.4 L198.6 144.06 L199.1 143.71 L199.6 143.35 L200.1 142.99 L200.6 142.61 L201.1 142.23 L201.6 141.85 L202.1 141.45 L202.6 141.04 L203.1 140.63 L203.6 140.21 L204.1 139.77 L204.6 139.33 L205.1 138.88 L205.6 138.42 L206.1 137.95 L206.6 137.48 L207.1 136.99 L207.6 136.49 L208.1 135.97 L208.6 135.45 L209.1 134.92 L209.6 134.38 L210.1 133.82 L210.6 133.25 L211.1 132.67 L211.6 132.08 L212.1 131.48 L212.6 130.86 L213.1 130.24 L213.6 129.59 L214.1 128.94 L214.6 128.27 L215.1 127.59 L215.6 126.9 L216.1 126.19 L216.6 125.47 L217.1 124.73 L217.6 123.98 L218.1 123.22 L218.6 122.44 L219.1 121.65 L219.6 120.84 L220.1 120.02 L220.6 119.19 L221.1 118.34 L221.6 117.48 L222.1 116.6 L222.6 115.71 L223.1 114.81 L223.6 113.9 L224.1 112.97 L224.6 112.03 L225.1 111.08 L225.6 110.12 L226.1 109.14 L226.6 108.16 L227.1 107.17 L227.6 106.17 L228.1 105.17 L228.6 104.15 L229.1 103.14 L229.6 102.12 L230.1 101.09 L230.6 100.07 L231.1 99.04 L231.6 98.02 L232.1 96.99 L232.6 95.98 L233.1 94.97 L233.6 93.97 L234.1 92.98 L234.6 92 L235.1 91.03 L235.6 90.09 L236.1 89.16 L236.6 88.25 L237.1 87.37 L237.6 86.51 L238.1 85.68 L238.6 84.88 L239.1 84.12 L239.6 83.39 L240.1 82.69 L240.6 82.04 L241.1 81.43 L241.6 80.86 L242.1 80.34 L242.6 79.86 L243.1 79.44 L243.6 79.06 L244.1 78.74 L244.6 78.47 L245.1 78.26 L245.6 78.1 L246.1 77.99 L246.6 77.95 L247.1 77.95 L247.6 78.02 L248.1 78.14 L248.6 78.32 L249.1 78.55 L249.6 78.84 L250.1 79.18 L250.6 79.57 L251.1 80.01 L251.6 80.5 L252.1 81.04 L252.6 81.62 L253.1 82.24 L253.6 82.91 L254.1 83.62 L254.6 84.36 L255.1 85.13 L255.6 85.94 L256.1 86.78 L256.6 87.65 L257.1 88.54 L257.6 89.45 L258.1 90.39 L258.6 91.34 L259.1 92.31 L259.6 93.29 L260.1 94.29 L260.6 95.29 L261.1 96.3 L261.6 97.32 L262.1 98.34 L262.6 99.37 L263.1 100.39 L263.6 101.42 L264.1 102.44 L264.6 103.46 L265.1 104.48 L265.6 105.49 L266.1 106.49 L266.6 107.49 L267.1 108.48 L267.6 109.46 L268.1 110.43 L268.6 111.38 L269.1 112.33 L269.6 113.27 L270.1 114.19 L270.6 115.1 L271.1 116 L271.6 116.88 L272.1 117.75 L272.6 118.61 L273.1 119.45 L273.6 120.28 L274.1 121.1 L274.6 121.9 L275.1 122.69 L275.6 123.46 L276.1 124.22 L276.6 124.97 L277.1 125.7 L277.6 126.42 L278.1 127.12 L278.6 127.81 L279.1 128.49 L279.6 129.15 L280.1 129.8 L280.6 130.44 L281.1 131.06 L281.6 131.67 L282.1 132.27 L282.6 132.86 L283.1 133.44 L283.6 134 L284.1 134.55 L284.6 135.09 L285.1 135.62 L285.6 136.14 L286.1 136.65 L286.6 137.14 L287.1 137.63 L287.6 138.11 L288.1 138.57 L288.6 139.03 L289.1 139.48 L289.6 139.91 L290.1 140.34 L290.6 140.76 L291.1 141.17 L291.6 141.58 L292.1 141.97 L292.6 142.36 L293.1 142.73 L293.6 143.1 L294.1 143.47 L294.6 143.82 L295.1 144.17 L295.6 144.51 L296.1 144.85 L296.6 145.17 L297.1 145.49 L297.6 145.81 L298.1 146.11 L298.6 146.42 L299.1 146.71 L299.6 147 L300.1 147.28 L300.6 147.56 L301.1 147.84 L301.6 148.1 L302.1 148.37 L302.6 148.62 L303.1 148.87 L303.6 149.12 L304.1 149.36 L304.6 149.6 L305.1 149.83 L305.6 150.06 L306.1 150.29 L306.6 150.51 L307.1 150.72 L307.6 150.93 L308.1 151.14 L308.6 151.35 L309.1 151.55 L309.6 151.74 L310.1 151.94 L310.6 152.13 L311.1 152.31 L311.6 152.49 L312.1 152.67 L312.6 152.85 L313.1 153.02 L313.6 153.19 L314.1 153.36 L314.6 153.52 L315.1 153.68 L315.6 153.84 L316.1 154 L316.6 154.15 L317.1 154.3 L317.6 154.44 L318.1 154.59 L318.6 154.73 L319.1 154.87 L319.6 155.01 L320.1 155.14 L320.6 155.28 L321.1 155.41 L321.6 155.54 L322.1 155.66 L322.6 155.79 L323.1 155.91 L323.6 156.03 L324.1 156.15 L324.6 156.26 L325.1 156.38 L325.6 156.49 L326.1 156.6 L326.6 156.71 L327.1 156.82 L327.6 156.92 L328.1 157.03 L328.6 157.13 L329.1 157.23 L329.6 157.33 L330.1 157.43 L330.6 157.52 L331.1 157.62 L331.6 157.71 L332.1 157.8 L332.6 157.89 L333.1 157.98 L333.6 158.07 L334.1 158.15 L334.6 158.24 L335.1 158.32 L335.6 158.41 L336.1 158.49 L336.6 158.57 L337.1 158.65 L337.6 158.72 L338.1 158.8 L338.6 158.88 L339.1 158.95 L339.6 159.02 L340.1 159.1 L340.6 159.17 L341.1 159.24 L341.6 159.31 L342.1 159.37 L342.6 159.44 L343.1 159.51 L343.6 159.57 L344.1 159.64 L344.6 159.7 L345.1 159.77 L345.6 159.83 L346.1 159.89 L346.6 159.95 L347.1 160.01 L347.6 160.07 L348.1 160.12 L348.6 160.18 L349.1 160.24 L349.6 160.29 L350.1 160.35 L350.6 160.4 L351.1 160.46 L351.6 160.51 L352.1 160.56 L352.6 160.61 L353.1 160.66 L353.6 160.71 L354.1 160.76 L354.6 160.81 L355.1 160.86 L355.6 160.91 L356.1 160.96 L356.6 161 L357.1 161.05 L357.6 161.09 L358.1 161.14 L358.6 161.18 L359.1 161.23 L359.6 161.27 L360.1 161.31 L360.6 161.35 L361.1 161.39 L361.6 161.44 L362.1 161.48 L362.6 161.52 L363.1 161.56 L363.6 161.6 L364.1 161.63 L364.6 161.67 L365.1 161.71 L365.6 161.75 L366.1 161.78 L366.6 161.82 L367.1 161.86 L367.6 161.89 L368.1 161.93 L368.6 161.96 L369.1 162 L369.6 162.03 L370.1 162.06 L370.6 162.1 L371.1 162.13 L371.6 162.16 L372.1 162.19 L372.6 162.23 L373.1 162.26 L373.6 162.29 L374.1 162.32 L374.6 162.35 L375.1 162.38 L375.6 162.41 L376.1 162.44 L376.6 162.47 L377.1 162.5 L377.6 162.53 L378.1 162.55 L378.6 162.58 L379.1 162.61 L379.6 162.64 L380.1 162.66 L380.6 162.69 L381.1 162.72 L381.6 162.74 L382.1 162.77 L382.6 162.79 L383.1 162.82 L383.6 162.84 L384.1 162.87 L384.6 162.89 L385.1 162.92 L385.6 162.94 L386.1 162.97 L386.6 162.99 L387.1 163.01 L387.6 163.04 L388.1 163.06 L388.6 163.08 L389.1 163.1 L389.6 163.13 L390.1 163.15 L390.6 163.17 L391.1 163.19 L391.6 163.21 L392.1 163.23 L392.6 163.25 L393.1 163.28 L393.6 163.3 L394.1 163.32 L394.6 163.34 L395.1 163.36 L395.6 163.38 L396.1 163.4 L396.6 163.41 L397.1 163.43 L397.6 163.45 L398.1 163.47 L398.6 163.49 L399.1 163.51 L399.6 163.53 L400.1 163.55 L400.6 163.56 L401.1 163.58 L401.6 163.6 L402.1 163.62 L402.6 163.63 L403.1 163.65 L403.6 163.67 L404.1 163.68 L404.6 163.7 L405.1 163.72 L405.6 163.73 L406.1 163.75 L406.6 163.77" stroke="#000" stroke-width="2.2"/>
<path d="M66.6 166.58 L67.1 166.58 L67.6 166.58 L68.1 166.58 L68.6 166.58 L69.1 166.58 L69.6 166.57 L70.1 166.57 L70.6 166.57 L71.1 166.57 L71.6 166.57 L72.1 166.57 L72.6 166.56 L73.1 166.56 L73.6 166.56 L74.1 166.56 L74.6 166.56 L75.1 166.55 L75.6 166.55 L76.1 166.55 L76.6 166.55 L77.1 166.54 L77.6 166.54 L78.1 166.54 L78.6 166.53 L79.1 166.53 L79.6 166.53 L80.1 166.52 L80.6 166.52 L81.1 166.52 L81.6 166.51 L82.1 166.51 L82.6 166.51 L83.1 166.5 L83.6 166.5 L84.1 166.49 L84.6 166.49 L85.1 166.48 L85.6 166.48 L86.1 166.47 L86.6 166.47 L87.1 166.46 L87.6 166.45 L88.1 166.45 L88.6 166.44 L89.1 166.43 L89.6 166.43 L90.1 166.42 L90.6 166.41 L91.1 166.4 L91.6 166.39 L92.1 166.39 L92.6 166.38 L93.1 166.37 L93.6 166.36 L94.1 166.35 L94.6 166.34 L95.1 166.33 L95.6 166.32 L96.1 166.31 L96.6 166.29 L97.1 166.28 L97.6 166.27 L98.1 166.26 L98.6 166.24 L99.1 166.23 L99.6 166.22 L100.1 166.2 L100.6 166.19 L101.1 166.17 L101.6 166.15 L102.1 166.14 L102.6 166.12 L103.1 166.1 L103.6 166.08 L104.1 166.06 L104.6 166.04 L105.1 166.02 L105.6 166 L106.1 165.98 L106.6 165.96 L107.1 165.93 L107.6 165.91 L108.1 165.89 L108.6 165.86 L109.1 165.83 L109.6 165.81 L110.1 165.78 L110.6 165.75 L111.1 165.72 L111.6 165.69 L112.1 165.66 L112.6 165.63 L113.1 165.59 L113.6 165.56 L114.1 165.52 L114.6 165.49 L115.1 165.45 L115.6 165.41 L116.1 165.37 L116.6 165.33 L117.1 165.29 L117.6 165.25 L118.1 165.2 L118.6 165.16 L119.1 165.11 L119.6 165.06 L120.1 165.01 L120.6 164.96 L121.1 164.91 L121.6 164.86 L122.1 164.8 L122.6 164.75 L123.1 164.69 L123.6 164.63 L124.1 164.57 L124.6 164.51 L125.1 164.44 L125.6 164.38 L126.1 164.31 L126.6 164.24 L127.1 164.17 L127.6 164.1 L128.1 164.02 L128.6 163.95 L129.1 163.87 L129.6 163.79 L130.1 163.71 L130.6 163.63 L131.1 163.54 L131.6 163.45 L132.1 163.36 L132.6 163.27 L133.1 163.18 L133.6 163.08 L134.1 162.98 L134.6 162.88 L135.1 162.78 L135.6 162.68 L136.1 162.57 L136.6 162.46 L137.1 162.35 L137.6 162.24 L138.1 162.12 L138.6 162 L139.1 161.88 L139.6 161.76 L140.1 161.63 L140.6 161.5 L141.1 161.37 L141.6 161.24 L142.1 161.1 L142.6 160.96 L143.1 160.82 L143.6 160.68 L144.1 160.53 L144.6 160.38 L145.1 160.23 L145.6 160.07 L146.1 159.91 L146.6 159.75 L147.1 159.59 L147.6 159.42 L148.1 159.25 L148.6 159.08 L149.1 158.9 L149.6 158.72 L150.1 158.54 L150.6 158.36 L151.1 158.17 L151.6 157.98 L152.1 157.78 L152.6 157.59 L153.1 157.39 L153.6 157.18 L154.1 156.98 L154.6 156.77 L155.1 156.56 L155.6 156.34 L156.1 156.12 L156.6 155.9 L157.1 155.68 L157.6 155.45 L158.1 155.22 L158.6 154.98 L159.1 154.75 L159.6 154.5 L160.1 154.26 L160.6 154.01 L161.1 153.76 L161.6 153.51 L162.1 153.26 L162.6 153 L163.1 152.73 L163.6 152.47 L164.1 152.2 L164.6 151.93 L165.1 151.66 L165.6 151.38 L166.1 151.1 L166.6 150.82 L167.1 150.53 L167.6 150.24 L168.1 149.95 L168.6 149.66 L169.1 149.36 L169.6 149.06 L170.1 148.76 L170.6 148.45 L171.1 148.15 L171.6 147.84 L172.1 147.52 L172.6 147.21 L173.1 146.89 L173.6 146.57 L174.1 146.25 L174.6 145.93 L175.1 145.6 L175.6 145.27 L176.1 144.94 L176.6 144.61 L177.1 144.28 L177.6 143.94 L178.1 143.61 L178.6 143.27 L179.1 142.93 L179.6 142.58 L180.1 142.24 L180.6 141.89 L181.1 141.55 L181.6 141.2 L182.1 140.85 L182.6 140.5 L183.1 140.15 L183.6 139.8 L184.1 139.45 L184.6 139.09 L185.1 138.74 L185.6 138.38 L186.1 138.03 L186.6 137.67 L187.1 137.32 L187.6 136.96 L188.1 136.61 L188.6 136.25 L189.1 135.9 L189.6 135.54 L190.1 135.19 L190.6 134.83 L191.1 134.48 L191.6 134.13 L192.1 133.78 L192.6 133.43 L193.1 133.08 L193.6 132.73 L194.1 132.38 L194.6 132.03 L195.1 131.69 L195.6 131.35 L196.1 131.01 L196.6 130.67 L197.1 130.33 L197.6 129.99 L198.1 129.66 L198.6 129.33 L199.1 129 L199.6 128.68 L200.1 128.35 L200.6 128.03 L201.1 127.71 L201.6 127.4 L202.1 127.09 L202.6 126.78 L203.1 126.48 L203.6 126.17 L204.1 125.88 L204.6 125.58 L205.1 125.29 L205.6 125 L206.1 124.72 L206.6 124.44 L207.1 124.17 L207.6 123.9 L208.1 123.63 L208.6 123.37 L209.1 123.12 L209.6 122.87 L210.1 122.62 L210.6 122.38 L211.1 122.14 L211.6 121.91 L212.1 121.68 L212.6 121.46 L213.1 121.25 L213.6 121.04 L214.1 120.83 L214.6 120.63 L215.1 120.44 L215.6 120.25 L216.1 120.07 L216.6 119.9 L217.1 119.73 L217.6 119.56 L218.1 119.41 L218.6 119.25 L219.1 119.11 L219.6 118.97 L220.1 118.84 L220.6 118.71 L221.1 118.6 L221.6 118.48 L222.1 118.38 L222.6 118.28 L223.1 118.19 L223.6 118.1 L224.1 118.02 L224.6 117.95 L225.1 117.89 L225.6 117.83 L226.1 117.78 L226.6 117.73 L227.1 117.7 L227.6 117.67 L228.1 117.64 L228.6 117.63 L229.1 117.62 L229.6 117.62 L230.1 117.62 L230.6 117.63 L231.1 117.65 L231.6 117.68 L232.1 117.71 L232.6 117.75 L233.1 117.8 L233.6 117.85 L234.1 117.91 L234.6 117.98 L235.1 118.05 L235.6 118.14 L236.1 118.22 L236.6 118.32 L237.1 118.42 L237.6 118.53 L238.1 118.64 L238.6 118.76 L239.1 118.89 L239.6 119.03 L240.1 119.17 L240.6 119.31 L241.1 119.47 L241.6 119.63 L242.1 119.79 L242.6 119.96 L243.1 120.14 L243.6 120.33 L244.1 120.52 L244.6 120.71 L245.1 120.91 L245.6 121.12 L246.1 121.33 L246.6 121.55 L247.1 121.77 L247.6 122 L248.1 122.23 L248.6 122.47 L249.1 122.72 L249.6 122.97 L250.1 123.22 L250.6 123.48 L251.1 123.74 L251.6 124.01 L252.1 124.28 L252.6 124.55 L253.1 124.83 L253.6 125.12 L254.1 125.41 L254.6 125.7 L255.1 125.99 L255.6 126.29 L256.1 126.6 L256.6 126.9 L257.1 127.21 L257.6 127.53 L258.1 127.84 L258.6 128.16 L259.1 128.48 L259.6 128.81 L260.1 129.13 L260.6 129.46 L261.1 129.79 L261.6 130.13 L262.1 130.46 L262.6 130.8 L263.1 131.14 L263.6 131.48 L264.1 131.83 L264.6 132.17 L265.1 132.52 L265.6 132.87 L266.1 133.22 L266.6 133.57 L267.1 133.92 L267.6 134.27 L268.1 134.62 L268.6 134.98 L269.1 135.33 L269.6 135.69 L270.1 136.04 L270.6 136.4 L271.1 136.75 L271.6 137.11 L272.1 137.46 L272.6 137.82 L273.1 138.17 L273.6 138.53 L274.1 138.88 L274.6 139.23 L275.1 139.59 L275.6 139.94 L276.1 140.29 L276.6 140.64 L277.1 140.99 L277.6 141.34 L278.1 141.69 L278.6 142.03 L279.1 142.38 L279.6 142.72 L280.1 143.06 L280.6 143.4 L281.1 143.74 L281.6 144.08 L282.1 144.41 L282.6 144.75 L283.1 145.08 L283.6 145.41 L284.1 145.73 L284.6 146.06 L285.1 146.38 L285.6 146.7 L286.1 147.02 L286.6 147.34 L287.1 147.65 L287.6 147.96 L288.1 148.27 L288.6 148.58 L289.1 148.88 L289.6 149.18 L290.1 149.48 L290.6 149.77 L291.1 150.07 L291.6 150.36 L292.1 150.65 L292.6 150.93 L293.1 151.21 L293.6 151.49 L294.1 151.77 L294.6 152.04 L295.1 152.31 L295.6 152.58 L296.1 152.84 L296.6 153.1 L297.1 153.36 L297.6 153.61 L298.1 153.86 L298.6 154.11 L299.1 154.36 L299.6 154.6 L300.1 154.84 L300.6 155.08 L301.1 155.31 L301.6 155.54 L302.1 155.77 L302.6 155.99 L303.1 156.21 L303.6 156.43 L304.1 156.64 L304.6 156.85 L305.1 157.06 L305.6 157.27 L306.1 157.47 L306.6 157.67 L307.1 157.86 L307.6 158.06 L308.1 158.25 L308.6 158.43 L309.1 158.62 L309.6 158.8 L310.1 158.97 L310.6 159.15 L311.1 159.32 L311.6 159.49 L312.1 159.65 L312.6 159.82 L313.1 159.98 L313.6 160.13 L314.1 160.29 L314.6 160.44 L315.1 160.59 L315.6 160.73 L316.1 160.88 L316.6 161.02 L317.1 161.16 L317.6 161.29 L318.1 161.42 L318.6 161.55 L319.1 161.68 L319.6 161.81 L320.1 161.93 L320.6 162.05 L321.1 162.17 L321.6 162.28 L322.1 162.4 L322.6 162.51 L323.1 162.61 L323.6 162.72 L324.1 162.82 L324.6 162.92 L325.1 163.02 L325.6 163.12 L326.1 163.22 L326.6 163.31 L327.1 163.4 L327.6 163.49 L328.1 163.57 L328.6 163.66 L329.1 163.74 L329.6 163.82 L330.1 163.9 L330.6 163.98 L331.1 164.05 L331.6 164.13 L332.1 164.2 L332.6 164.27 L333.1 164.34 L333.6 164.4 L334.1 164.47 L334.6 164.53 L335.1 164.59 L335.6 164.65 L336.1 164.71 L336.6 164.77 L337.1 164.82 L337.6 164.88 L338.1 164.93 L338.6 164.98 L339.1 165.03 L339.6 165.08 L340.1 165.13 L340.6 165.17 L341.1 165.22 L341.6 165.26 L342.1 165.31 L342.6 165.35 L343.1 165.39 L343.6 165.43 L344.1 165.46 L344.6 165.5 L345.1 165.54 L345.6 165.57 L346.1 165.61 L346.6 165.64 L347.1 165.67 L347.6 165.7 L348.1 165.73 L348.6 165.76 L349.1 165.79 L349.6 165.82 L350.1 165.84 L350.6 165.87 L351.1 165.9 L351.6 165.92 L352.1 165.94 L352.6 165.97 L353.1 165.99 L353.6 166.01 L354.1 166.03 L354.6 166.05 L355.1 166.07 L355.6 166.09 L356.1 166.11 L356.6 166.13 L357.1 166.14 L357.6 166.16 L358.1 166.18 L358.6 166.19 L359.1 166.21 L359.6 166.22 L360.1 166.24 L360.6 166.25 L361.1 166.26 L361.6 166.27 L362.1 166.29 L362.6 166.3 L363.1 166.31 L363.6 166.32 L364.1 166.33 L364.6 166.34 L365.1 166.35 L365.6 166.36 L366.1 166.37 L366.6 166.38 L367.1 166.39 L367.6 166.4 L368.1 166.41 L368.6 166.41 L369.1 166.42 L369.6 166.43 L370.1 166.44 L370.6 166.44 L371.1 166.45 L371.6 166.46 L372.1 166.46 L372.6 166.47 L373.1 166.47 L373.6 166.48 L374.1 166.48 L374.6 166.49 L375.1 166.49 L375.6 166.5 L376.1 166.5 L376.6 166.51 L377.1 166.51 L377.6 166.51 L378.1 166.52 L378.6 166.52 L379.1 166.53 L379.6 166.53 L380.1 166.53 L380.6 166.54 L381.1 166.54 L381.6 166.54 L382.1 166.54 L382.6 166.55 L383.1 166.55 L383.6 166.55 L384.1 166.55 L384.6 166.56 L385.1 166.56 L385.6 166.56 L386.1 166.56 L386.6 166.57 L387.1 166.57 L387.6 166.57 L388.1 166.57 L388.6 166.57 L389.1 166.57 L389.6 166.58 L390.1 166.58 L390.6 166.58 L391.1 166.58 L391.6 166.58 L392.1 166.58 L392.6 166.58 L393.1 166.58 L393.6 166.58 L394.1 166.59 L394.6 166.59 L395.1 166.59 L395.6 166.59 L396.1 166.59 L396.6 166.59 L397.1 166.59 L397.6 166.59 L398.1 166.59 L398.6 166.59 L399.1 166.59 L399.6 166.59 L400.1 166.6 L400.6 166.6 L401.1 166.6 L401.6 166.6 L402.1 166.6 L402.6 166.6 L403.1 166.6 L403.6 166.6 L404.1 166.6 L404.6 166.6 L405.1 166.6 L405.6 166.6 L406.1 166.6 L406.6 166.6" stroke="#0a84ff" stroke-width="2.3" stroke-dasharray="6.2 2.4 1.8 2.4" stroke-dashoffset="4.95"/>
</g>
<g clip-path="url(#r0)" fill="none" stroke-linejoin="round">
<path d="M242.9 180.3 V229.6" stroke="#8e8e8e" stroke-width="1" stroke-dasharray="5.5 5.3"/>
<path d="M66.6 204.9 H406.7" stroke="#b2b2b2" stroke-width="1.35" stroke-dasharray="5.2 5"/>
<path d="M66.6 204.9 L67.1 204.9 L67.6 204.9 L68.1 204.9 L68.6 204.9 L69.1 204.9 L69.6 204.9 L70.1 204.9 L70.6 204.9 L71.1 204.9 L71.6 204.9 L72.1 204.9 L72.6 204.9 L73.1 204.9 L73.6 204.9 L74.1 204.9 L74.6 204.9 L75.1 204.9 L75.6 204.9 L76.1 204.9 L76.6 204.9 L77.1 204.9 L77.6 204.9 L78.1 204.9 L78.6 204.9 L79.1 204.9 L79.6 204.9 L80.1 204.9 L80.6 204.9 L81.1 204.9 L81.6 204.9 L82.1 204.9 L82.6 204.9 L83.1 204.9 L83.6 204.9 L84.1 204.9 L84.6 204.9 L85.1 204.9 L85.6 204.9 L86.1 204.9 L86.6 204.9 L87.1 204.9 L87.6 204.9 L88.1 204.9 L88.6 204.9 L89.1 204.9 L89.6 204.9 L90.1 204.9 L90.6 204.9 L91.1 204.9 L91.6 204.9 L92.1 204.9 L92.6 204.9 L93.1 204.9 L93.6 204.9 L94.1 204.9 L94.6 204.9 L95.1 204.9 L95.6 204.9 L96.1 204.9 L96.6 204.9 L97.1 204.9 L97.6 204.9 L98.1 204.9 L98.6 204.9 L99.1 204.9 L99.6 204.9 L100.1 204.9 L100.6 204.9 L101.1 204.9 L101.6 204.9 L102.1 204.9 L102.6 204.9 L103.1 204.9 L103.6 204.9 L104.1 204.9 L104.6 204.9 L105.1 204.9 L105.6 204.9 L106.1 204.9 L106.6 204.9 L107.1 204.9 L107.6 204.9 L108.1 204.9 L108.6 204.9 L109.1 204.9 L109.6 204.9 L110.1 204.9 L110.6 204.9 L111.1 204.9 L111.6 204.9 L112.1 204.9 L112.6 204.9 L113.1 204.9 L113.6 204.9 L114.1 204.9 L114.6 204.9 L115.1 204.9 L115.6 204.91 L116.1 204.91 L116.6 204.91 L117.1 204.92 L117.6 204.93 L118.1 204.95 L118.6 204.97 L119.1 205 L119.6 205.04 L120.1 205.1 L120.6 205.18 L121.1 205.29 L121.6 205.44 L122.1 205.64 L122.6 205.9 L123.1 206.25 L123.6 206.72 L124.1 207.31 L124.6 208.08 L125.1 209.06 L125.6 210.29 L126.1 211.83 L126.6 213.74 L127.1 216.08 L127.6 218.92 L128.1 222.33 L128.6 226.4 L129.1 231.2 L129.6 235.6 L130.1 235.6 L130.6 235.6 L131.1 235.6 L131.6 235.6 L132.1 235.6 L132.6 235.6 L133.1 235.6 L133.6 235.6 L134.1 235.6 L134.6 235.6 L135.1 235.6 L135.6 235.6 L136.1 235.6 L136.6 235.6 L137.1 235.6 L137.6 235.6 L138.1 235.6 L138.6 235.6 L139.1 235.6 L139.6 235.6 L140.1 235.6 L140.6 235.6 L141.1 235.6 L141.6 235.6 L142.1 235.6 L142.6 235.6 L143.1 235.6 L143.6 235.6 L144.1 235.6 L144.6 235.6 L145.1 235.6 L145.6 235.6 L146.1 235.6 L146.6 235.6 L147.1 235.6 L147.6 235.6 L148.1 235.6 L148.6 235.6 L149.1 235.6 L149.6 235.6 L150.1 235.6 L150.6 235.6 L151.1 235.6 L151.6 235.6 L152.1 235.6 L152.6 234.47 L153.1 229.19 L153.6 224.69 L154.1 220.89 L154.6 217.71 L155.1 215.08 L155.6 212.93 L156.1 211.17 L156.6 209.76 L157.1 208.64 L157.6 207.75 L158.1 207.06 L158.6 206.52 L159.1 206.1 L159.6 205.79 L160.1 205.55 L160.6 205.37 L161.1 205.24 L161.6 205.14 L162.1 205.07 L162.6 205.02 L163.1 204.98 L163.6 204.96 L164.1 204.94 L164.6 204.93 L165.1 204.92 L165.6 204.91 L166.1 204.91 L166.6 204.91 L167.1 204.9 L167.6 204.9 L168.1 204.9 L168.6 204.9 L169.1 204.9 L169.6 204.9 L170.1 204.9 L170.6 204.9 L171.1 204.9 L171.6 204.9 L172.1 204.9 L172.6 204.9 L173.1 204.9 L173.6 204.9 L174.1 204.9 L174.6 204.9 L175.1 204.9 L175.6 204.9 L176.1 204.9 L176.6 204.9 L177.1 204.9 L177.6 204.9 L178.1 204.9 L178.6 204.9 L179.1 204.9 L179.6 204.9 L180.1 204.9 L180.6 204.9 L181.1 204.9 L181.6 204.9 L182.1 204.9 L182.6 204.9 L183.1 204.9 L183.6 204.9 L184.1 204.9 L184.6 204.9 L185.1 204.9 L185.6 204.9 L186.1 204.9 L186.6 204.9 L187.1 204.9 L187.6 204.9 L188.1 204.9 L188.6 204.9 L189.1 204.9 L189.6 204.9 L190.1 204.9 L190.6 204.9 L191.1 204.9 L191.6 204.9 L192.1 204.9 L192.6 204.9 L193.1 204.9 L193.6 204.9 L194.1 204.9 L194.6 204.9 L195.1 204.9 L195.6 204.9 L196.1 204.9 L196.6 204.9 L197.1 204.9 L197.6 204.9 L198.1 204.9 L198.6 204.9 L199.1 204.9 L199.6 204.9 L200.1 204.9 L200.6 204.9 L201.1 204.9 L201.6 204.9 L202.1 204.9 L202.6 204.9 L203.1 204.9 L203.6 204.9 L204.1 204.9 L204.6 204.9 L205.1 204.9 L205.6 204.9 L206.1 204.9 L206.6 204.9 L207.1 204.9 L207.6 204.9 L208.1 204.9 L208.6 204.9 L209.1 204.9 L209.6 204.9 L210.1 204.9 L210.6 204.9 L211.1 204.9 L211.6 204.9 L212.1 204.9 L212.6 204.9 L213.1 204.9 L213.6 204.9 L214.1 204.9 L214.6 204.9 L215.1 204.9 L215.6 204.9 L216.1 204.9 L216.6 204.9 L217.1 204.9 L217.6 204.9 L218.1 204.9 L218.6 204.91 L219.1 204.91 L219.6 204.92 L220.1 204.93 L220.6 204.95 L221.1 204.99 L221.6 205.04 L222.1 205.13 L222.6 205.27 L223.1 205.47 L223.6 205.78 L224.1 206.22 L224.6 206.84 L225.1 207.7 L225.6 208.86 L226.1 210.39 L226.6 212.37 L227.1 214.85 L227.6 217.91 L228.1 221.57 L228.6 225.84 L229.1 230.69 L229.6 235.6 L230.1 235.6 L230.6 235.6 L231.1 235.6 L231.6 235.6 L232.1 235.6 L232.6 235.6 L233.1 235.6 L233.6 235.6 L234.1 235.6 L234.6 235.6 L235.1 235.6 L235.6 235.6 L236.1 235.6 L236.6 235.6 L237.1 235.6 L237.6 235.6 L238.1 235.6 L238.6 235.6 L239.1 230.69 L239.6 225.84 L240.1 221.57 L240.6 217.91 L241.1 214.85 L241.6 212.37 L242.1 210.39 L242.6 208.86 L243.1 207.7 L243.6 206.84 L244.1 206.22 L244.6 205.78 L245.1 205.47 L245.6 205.27 L246.1 205.13 L246.6 205.04 L247.1 204.99 L247.6 204.95 L248.1 204.93 L248.6 204.92 L249.1 204.91 L249.6 204.91 L250.1 204.9 L250.6 204.9 L251.1 204.9 L251.6 204.9 L252.1 204.9 L252.6 204.9 L253.1 204.9 L253.6 204.9 L254.1 204.9 L254.6 204.9 L255.1 204.9 L255.6 204.9 L256.1 204.9 L256.6 204.9 L257.1 204.9 L257.6 204.9 L258.1 204.9 L258.6 204.9 L259.1 204.9 L259.6 204.9 L260.1 204.9 L260.6 204.9 L261.1 204.9 L261.6 204.9 L262.1 204.9 L262.6 204.9 L263.1 204.9 L263.6 204.9 L264.1 204.9 L264.6 204.9 L265.1 204.9 L265.6 204.9 L266.1 204.9 L266.6 204.9 L267.1 204.9 L267.6 204.9 L268.1 204.9 L268.6 204.9 L269.1 204.9 L269.6 204.9 L270.1 204.9 L270.6 204.9 L271.1 204.9 L271.6 204.9 L272.1 204.9 L272.6 204.9 L273.1 204.9 L273.6 204.9 L274.1 204.9 L274.6 204.9 L275.1 204.9 L275.6 204.9 L276.1 204.9 L276.6 204.9 L277.1 204.9 L277.6 204.9 L278.1 204.9 L278.6 204.9 L279.1 204.9 L279.6 204.9 L280.1 204.9 L280.6 204.9 L281.1 204.9 L281.6 204.9 L282.1 204.9 L282.6 204.9 L283.1 204.9 L283.6 204.9 L284.1 204.9 L284.6 204.9 L285.1 204.9 L285.6 204.9 L286.1 204.9 L286.6 204.9 L287.1 204.9 L287.6 204.9 L288.1 204.9 L288.6 204.9 L289.1 204.9 L289.6 204.9 L290.1 204.9 L290.6 204.9 L291.1 204.9 L291.6 204.9 L292.1 204.9 L292.6 204.9 L293.1 204.9 L293.6 204.9 L294.1 204.9 L294.6 204.9 L295.1 204.9 L295.6 204.9 L296.1 204.9 L296.6 204.9 L297.1 204.9 L297.6 204.9 L298.1 204.9 L298.6 204.9 L299.1 204.9 L299.6 204.9 L300.1 204.9 L300.6 204.9 L301.1 204.9 L301.6 204.9 L302.1 204.9 L302.6 204.9 L303.1 204.9 L303.6 204.9 L304.1 204.9 L304.6 204.9 L305.1 204.9 L305.6 204.9 L306.1 204.9 L306.6 204.9 L307.1 204.9 L307.6 204.9 L308.1 204.9 L308.6 204.9 L309.1 204.9 L309.6 204.9 L310.1 204.9 L310.6 204.9 L311.1 204.9 L311.6 204.9 L312.1 204.9 L312.6 204.9 L313.1 204.9 L313.6 204.9 L314.1 204.9 L314.6 204.9 L315.1 204.9 L315.6 204.9 L316.1 204.9 L316.6 204.9 L317.1 204.9 L317.6 204.9 L318.1 204.9 L318.6 204.9 L319.1 204.9 L319.6 204.9 L320.1 204.9 L320.6 204.9 L321.1 204.9 L321.6 204.9 L322.1 204.9 L322.6 204.9 L323.1 204.9 L323.6 204.9 L324.1 204.9 L324.6 204.9 L325.1 204.9 L325.6 204.9 L326.1 204.9 L326.6 204.9 L327.1 204.9 L327.6 204.9 L328.1 204.9 L328.6 204.9 L329.1 204.9 L329.6 204.9 L330.1 204.9 L330.6 204.9 L331.1 204.9 L331.6 204.9 L332.1 204.9 L332.6 204.9 L333.1 204.9 L333.6 204.9 L334.1 204.9 L334.6 204.9 L335.1 204.9 L335.6 204.9 L336.1 204.9 L336.6 204.9 L337.1 204.9 L337.6 204.9 L338.1 204.9 L338.6 204.9 L339.1 204.9 L339.6 204.9 L340.1 204.9 L340.6 204.9 L341.1 204.9 L341.6 204.9 L342.1 204.9 L342.6 204.9 L343.1 204.9 L343.6 204.9 L344.1 204.9 L344.6 204.9 L345.1 204.9 L345.6 204.9 L346.1 204.9 L346.6 204.9 L347.1 204.9 L347.6 204.9 L348.1 204.9 L348.6 204.9 L349.1 204.9 L349.6 204.9 L350.1 204.9 L350.6 204.9 L351.1 204.9 L351.6 204.9 L352.1 204.9 L352.6 204.9 L353.1 204.9 L353.6 204.9 L354.1 204.9 L354.6 204.9 L355.1 204.9 L355.6 204.9 L356.1 204.9 L356.6 204.9 L357.1 204.9 L357.6 204.9 L358.1 204.9 L358.6 204.9 L359.1 204.9 L359.6 204.9 L360.1 204.9 L360.6 204.9 L361.1 204.9 L361.6 204.9 L362.1 204.9 L362.6 204.9 L363.1 204.9 L363.6 204.91 L364.1 204.91 L364.6 204.92 L365.1 204.93 L365.6 204.94 L366.1 204.96 L366.6 204.99 L367.1 205.03 L367.6 205.09 L368.1 205.17 L368.6 205.28 L369.1 205.44 L369.6 205.65 L370.1 205.94 L370.6 206.32 L371.1 206.81 L371.6 207.45 L372.1 208.27 L372.6 209.3 L373.1 210.6 L373.6 212.19 L374.1 214.13 L374.6 216.46 L375.1 219.24 L375.6 222.48 L376.1 226.24 L376.6 230.53 L377.1 235.36 L377.6 235.6 L378.1 235.6 L378.6 235.6 L379.1 235.6 L379.6 235.6 L380.1 235.6 L380.6 235.6 L381.1 235.6 L381.6 235.6 L382.1 235.6 L382.6 235.6 L383.1 235.6 L383.6 235.6 L384.1 235.6 L384.6 235.6 L385.1 235.6 L385.6 235.6 L386.1 235.6 L386.6 235.6 L387.1 235.6 L387.6 235.6 L388.1 235.6 L388.6 235.6 L389.1 235.6 L389.6 235.6 L390.1 235.6 L390.6 235.6 L391.1 235.6 L391.6 235.6 L392.1 235.6 L392.6 235.6 L393.1 235.6 L393.6 235.6 L394.1 233.45 L394.6 230.76 L395.1 228.56 L395.6 226.81 L396.1 225.44 L396.6 224.4 L397.1 223.62 L397.6 223.04 L398.1 222.61 L398.6 222.28 L399.1 221.99 L399.6 221.71 L400.1 221.41 L400.6 221.07 L401.1 220.66 L401.6 220.19 L402.1 219.64 L402.6 219.01 L403.1 218.32 L403.6 217.57 L404.1 216.77 L404.6 215.93 L405.1 215.07 L405.6 214.2 L406.1 213.34 L406.6 212.5" stroke="#ff4a2a" stroke-width="0.55"/>
<path d="M66.6 150 L74.5 179.6 L80.2 197 L83.9 190.5 L86.7 194.8 L90.4 203.5 L93.3 202.7 L94 206 L96.9 216 L98.3 229.5 L99.7 240 L101.2 229.5 L102.2 224.2 L108.4 224.2 L110.6 229.5 L111.7 233 L112.8 229.5 L115.7 216 L117.8 202 L127.2 196.2 L128.7 179.6 L129.3 160 L133.2 160 L133.7 179.6 L135.5 229.5 L136.4 236 L137.3 229.5 L139.5 197.7 L142.4 183.2 L145.3 202 L147.5 229.5 L148.5 237 L149.6 229.5 L151.5 196.2 L154.7 194 L158.3 205.6 L164 198.4 L167.7 202 L173.6 188.8 L178.7 196.2 L183 202 L185.9 202.7 L188.8 206.4 L193.1 210 L198.9 214.3 L202.5 212.1 L207.6 205.6 L211.2 195.5 L213.4 199.9 L216.6 191.9 L219.9 199.1 L223.2 192.6 L225.7 202 L227.8 216 L229.3 223.5 L231.2 214 L233.6 203 L235.8 190.5 L238.7 195.5 L239.6 197 L242.3 214.8 L248.1 226.6 L250.2 216.2 L252.4 210 L254.6 207.3 L256.7 211.3 L260.4 196.2 L263.2 190.5 L266.1 190.2 L269.8 194.8 L272.6 197.7 L277 195.5 L281.3 197 L284.9 204.9 L287.1 206.4 L290 203.5 L291.4 202.3 L294.3 204.9 L300.1 208 L303.7 205.6 L306.6 200.3 L309.5 203.2 L312.4 201.3 L316 202.7 L318.9 208.5 L322.5 210 L325.4 213.6 L328.3 204.2 L331.6 207.1 L334.5 203.2 L337 210 L340.3 214.7 L344.2 203.5 L347.1 202 L350.4 207.1 L353.6 203.5 L356.5 204.9 L359.4 209.3 L362.3 209.3 L365.2 212.9 L368.8 207.1 L371.7 196.2 L374.6 186.8 L378.2 189.7 L381.1 204.9 L384.3 181.8 L389.8 212.3 L396.3 207.3 L401.3 229.5 L403 240 L406.7 246" stroke="#303030" stroke-width="0.72"/>
</g>
<rect x="66.6" y="21.6" width="340.1" height="155.6" fill="none" stroke="#6a6a6a" stroke-width="1"/>
<rect x="66.6" y="179.6" width="340.1" height="50" fill="none" stroke="#6a6a6a" stroke-width="1"/>
<text transform="translate(65.8 17.1) scale(1.14 1)" text-anchor="middle" font-size="9.6" letter-spacing="0.05" >1340</text>
<text transform="translate(127.5 17.1) scale(1.14 1)" text-anchor="middle" font-size="9.6" letter-spacing="0.05" >1360</text>
<text transform="translate(189.6 17.1) scale(1.14 1)" text-anchor="middle" font-size="9.6" letter-spacing="0.05" >1380</text>
<text transform="translate(251.7 17.1) scale(1.14 1)" text-anchor="middle" font-size="9.6" letter-spacing="0.05" >1400</text>
<text transform="translate(313.8 17.1) scale(1.14 1)" text-anchor="middle" font-size="9.6" letter-spacing="0.05" >1420</text>
<text transform="translate(375.9 17.1) scale(1.14 1)" text-anchor="middle" font-size="9.6" letter-spacing="0.05" >1440</text>
<text transform="translate(98.3 244.6) scale(1.14 1)" text-anchor="middle" font-size="9.6" letter-spacing="0.05" ><tspan font-size="11" letter-spacing="0.9">−</tspan>10000</text>
<text transform="translate(170.65 244.6) scale(1.14 1)" text-anchor="middle" font-size="9.6" letter-spacing="0.05" ><tspan font-size="11" letter-spacing="0.9">−</tspan>5000</text>
<text transform="translate(242 244.6) scale(1.14 1)" text-anchor="middle" font-size="9.6" letter-spacing="0.05" >0</text>
<text transform="translate(314.35 244.6) scale(1.14 1)" text-anchor="middle" font-size="9.6" letter-spacing="0.05" >5000</text>
<text transform="translate(386.7 244.6) scale(1.14 1)" text-anchor="middle" font-size="9.6" letter-spacing="0.05" >10000</text>
<text transform="translate(61.6 170.3) scale(1.14 1)" text-anchor="end" font-size="9.6" letter-spacing="0.05" >0.0</text>
<text transform="translate(61.6 135.8) scale(1.14 1)" text-anchor="end" font-size="9.6" letter-spacing="0.05" >0.1</text>
<text transform="translate(61.6 101.3) scale(1.14 1)" text-anchor="end" font-size="9.6" letter-spacing="0.05" >0.2</text>
<text transform="translate(61.6 66.8) scale(1.14 1)" text-anchor="end" font-size="9.6" letter-spacing="0.05" >0.3</text>
<text transform="translate(61.6 32.3) scale(1.14 1)" text-anchor="end" font-size="9.6" letter-spacing="0.05" >0.4</text>
<text transform="translate(62.3 195.7) scale(1.14 1)" text-anchor="end" font-size="9.6" letter-spacing="0.05" >0.02</text>
<text transform="translate(62.3 208.7) scale(1.14 1)" text-anchor="end" font-size="9.6" letter-spacing="0.05" >0.00</text>
<text transform="translate(62.3 221.7) scale(1.14 1)" text-anchor="end" font-size="9.6" letter-spacing="0.05" ><tspan font-size="11" letter-spacing="0.9">−</tspan>0.02</text>
<text transform="translate(236.65 6.9) scale(1.24 1)" text-anchor="middle" font-size="9.0" letter-spacing="0.1" word-spacing="1.2">Rest Frame λ (A)</text>
<text transform="translate(236.45 257.3) scale(1.24 1)" text-anchor="middle" font-size="9.0" letter-spacing="0.25" >Δv (km s<tspan font-size="5.8" dy="-3.4" letter-spacing="0.2">−1</tspan><tspan dy="3.4">)</tspan></text>
<text transform="translate(352.3 50.3) scale(1.14 1)" text-anchor="middle" font-size="9.8" letter-spacing="0.3" ><tspan font-size="12" dy="0.6">(</tspan><tspan dy="-0.6">a</tspan><tspan font-size="12" dy="0.6">)</tspan></text>
<text transform="translate(38.4 99.4) rotate(-90) scale(1.24 1)" text-anchor="middle" font-size="9.0" letter-spacing="0.33" >Flux (Arbitrary Scale)</text>
<clipPath id="c399"><rect x="465.6" y="21.6" width="340.1" height="155.6"/></clipPath>
<clipPath id="r399"><rect x="465.6" y="179.6" width="340.1" height="50"/></clipPath>
<path d="M480.52 21.6 v1.8 M480.52 177.2 v-1.8 M496.05 21.6 v1.8 M496.05 177.2 v-1.8 M511.58 21.6 v1.8 M511.58 177.2 v-1.8 M527.1 21.6 v3.3 M527.1 177.2 v-3.3 M542.62 21.6 v1.8 M542.62 177.2 v-1.8 M558.15 21.6 v1.8 M558.15 177.2 v-1.8 M573.67 21.6 v1.8 M573.67 177.2 v-1.8 M589.2 21.6 v3.3 M589.2 177.2 v-3.3 M604.73 21.6 v1.8 M604.73 177.2 v-1.8 M620.25 21.6 v1.8 M620.25 177.2 v-1.8 M635.77 21.6 v1.8 M635.77 177.2 v-1.8 M651.3 21.6 v3.3 M651.3 177.2 v-3.3 M666.83 21.6 v1.8 M666.83 177.2 v-1.8 M682.35 21.6 v1.8 M682.35 177.2 v-1.8 M697.88 21.6 v1.8 M697.88 177.2 v-1.8 M713.4 21.6 v3.3 M713.4 177.2 v-3.3 M728.92 21.6 v1.8 M728.92 177.2 v-1.8 M744.45 21.6 v1.8 M744.45 177.2 v-1.8 M759.98 21.6 v1.8 M759.98 177.2 v-1.8 M775.5 21.6 v3.3 M775.5 177.2 v-3.3 M791.02 21.6 v1.8 M791.02 177.2 v-1.8 M467.66 179.6 v0.8 M467.66 229.6 v-0.8 M482.13 179.6 v0.8 M482.13 229.6 v-0.8 M496.6 179.6 v1.4 M496.6 229.6 v-1.4 M511.07 179.6 v0.8 M511.07 229.6 v-0.8 M525.54 179.6 v0.8 M525.54 229.6 v-0.8 M540.01 179.6 v0.8 M540.01 229.6 v-0.8 M554.48 179.6 v0.8 M554.48 229.6 v-0.8 M568.95 179.6 v1.4 M568.95 229.6 v-1.4 M583.42 179.6 v0.8 M583.42 229.6 v-0.8 M597.89 179.6 v0.8 M597.89 229.6 v-0.8 M612.36 179.6 v0.8 M612.36 229.6 v-0.8 M626.83 179.6 v0.8 M626.83 229.6 v-0.8 M641.3 179.6 v1.4 M641.3 229.6 v-1.4 M655.77 179.6 v0.8 M655.77 229.6 v-0.8 M670.24 179.6 v0.8 M670.24 229.6 v-0.8 M684.71 179.6 v0.8 M684.71 229.6 v-0.8 M699.18 179.6 v0.8 M699.18 229.6 v-0.8 M713.65 179.6 v1.4 M713.65 229.6 v-1.4 M728.12 179.6 v0.8 M728.12 229.6 v-0.8 M742.59 179.6 v0.8 M742.59 229.6 v-0.8 M757.06 179.6 v0.8 M757.06 229.6 v-0.8 M771.53 179.6 v0.8 M771.53 229.6 v-0.8 M786 179.6 v1.4 M786 229.6 v-1.4 M800.47 179.6 v0.8 M800.47 229.6 v-0.8 M465.6 176.51 h3.4 M805.7 176.51 h-3.4 M465.6 172.44 h3.4 M805.7 172.44 h-3.4 M465.6 168.37 h3.4 M805.7 168.37 h-3.4 M465.6 164.3 h6.8 M805.7 164.3 h-6.8 M465.6 160.23 h3.4 M805.7 160.23 h-3.4 M465.6 156.16 h3.4 M805.7 156.16 h-3.4 M465.6 152.09 h3.4 M805.7 152.09 h-3.4 M465.6 148.02 h3.4 M805.7 148.02 h-3.4 M465.6 143.95 h3.4 M805.7 143.95 h-3.4 M465.6 139.88 h3.4 M805.7 139.88 h-3.4 M465.6 135.81 h3.4 M805.7 135.81 h-3.4 M465.6 131.74 h3.4 M805.7 131.74 h-3.4 M465.6 127.67 h3.4 M805.7 127.67 h-3.4 M465.6 123.6 h6.8 M805.7 123.6 h-6.8 M465.6 119.53 h3.4 M805.7 119.53 h-3.4 M465.6 115.46 h3.4 M805.7 115.46 h-3.4 M465.6 111.39 h3.4 M805.7 111.39 h-3.4 M465.6 107.32 h3.4 M805.7 107.32 h-3.4 M465.6 103.25 h3.4 M805.7 103.25 h-3.4 M465.6 99.18 h3.4 M805.7 99.18 h-3.4 M465.6 95.11 h3.4 M805.7 95.11 h-3.4 M465.6 91.04 h3.4 M805.7 91.04 h-3.4 M465.6 86.97 h3.4 M805.7 86.97 h-3.4 M465.6 82.9 h6.8 M805.7 82.9 h-6.8 M465.6 78.83 h3.4 M805.7 78.83 h-3.4 M465.6 74.76 h3.4 M805.7 74.76 h-3.4 M465.6 70.69 h3.4 M805.7 70.69 h-3.4 M465.6 66.62 h3.4 M805.7 66.62 h-3.4 M465.6 62.55 h3.4 M805.7 62.55 h-3.4 M465.6 58.48 h3.4 M805.7 58.48 h-3.4 M465.6 54.41 h3.4 M805.7 54.41 h-3.4 M465.6 50.34 h3.4 M805.7 50.34 h-3.4 M465.6 46.27 h3.4 M805.7 46.27 h-3.4 M465.6 42.2 h6.8 M805.7 42.2 h-6.8 M465.6 38.13 h3.4 M805.7 38.13 h-3.4 M465.6 34.06 h3.4 M805.7 34.06 h-3.4 M465.6 29.99 h3.4 M805.7 29.99 h-3.4 M465.6 25.92 h3.4 M805.7 25.92 h-3.4 M465.6 21.85 h3.4 M805.7 21.85 h-3.4 M465.6 227.65 h3.4 M805.7 227.65 h-3.4 M465.6 224.4 h3.4 M805.7 224.4 h-3.4 M465.6 221.15 h3.4 M805.7 221.15 h-3.4 M465.6 217.9 h6.8 M805.7 217.9 h-6.8 M465.6 214.65 h3.4 M805.7 214.65 h-3.4 M465.6 211.4 h3.4 M805.7 211.4 h-3.4 M465.6 208.15 h3.4 M805.7 208.15 h-3.4 M465.6 204.9 h6.8 M805.7 204.9 h-6.8 M465.6 201.65 h3.4 M805.7 201.65 h-3.4 M465.6 198.4 h3.4 M805.7 198.4 h-3.4 M465.6 195.15 h3.4 M805.7 195.15 h-3.4 M465.6 191.9 h6.8 M805.7 191.9 h-6.8 M465.6 188.65 h3.4 M805.7 188.65 h-3.4 M465.6 185.4 h3.4 M805.7 185.4 h-3.4 M465.6 182.15 h3.4 M805.7 182.15 h-3.4" stroke="#6a6a6a" stroke-width="0.9" fill="none"/>
<g clip-path="url(#c399)" fill="none" stroke-linejoin="round">
<path d="M641.5 27.5 V177.2" stroke="#8e8e8e" stroke-width="1" stroke-dasharray="5.7 5.35"/>
<path d="M465.6 150.1 L468 152.3 L472.3 148 L474.5 149.4 L478.1 155.9 L481.7 158.5 L484.6 153.7 L487.5 155.2 L488.9 163.1 L492.5 166.7 L498.3 168.2 L501.9 176.9 L503.5 183 L505.9 186 L508.5 183 L509.9 176.9 L512.8 168.9 L514.9 155.2 L520.7 158.1 L525.8 161.7 L527.9 161.7 L530.8 153.7 L533.2 159.3 L535.4 150.8 L536.8 149.8 L539.5 149.8 L543.1 154.5 L546.2 163.4 L548.2 161.7 L552 146.5 L556.1 153 L558.8 154.3 L561.2 145.8 L564.1 146.5 L567.2 149.4 L571.3 143.6 L573.7 142.1 L576.9 148.7 L580.5 138 L582.7 129.9 L586.7 127 L589.3 115.6 L592.8 138 L593.9 166 L594.4 177.2 L594.8 195 L599.6 195 L600 177.2 L601.5 145 L603.4 113.7 L604.6 92.6 L607.5 72.3 L611.1 61.5 L612.5 68 L614.7 73.8 L617.6 63.7 L620.2 54 L623.4 51.8 L629.9 37.3 L632.8 43.9 L635.7 41.7 L639.3 31.6 L645.1 28.4 L647.2 60 L648.7 80 L649.8 98 L652 109.1 L655.8 95 L658 87.3 L660.7 90.6 L661.2 100 L661.7 125 L662.2 128.7 L663.3 150 L664.5 177.2 L665 195 L671.6 195 L672 177.2 L673.6 150 L676.3 127 L677.4 130.8 L680 131.7 L683.4 134.6 L686 137.6 L689.3 139.5 L691.5 136.8 L694.2 139 L699.1 144.9 L704 142.8 L707.2 146.4 L710.3 144.7 L711 148.5 L713.1 160.5 L715.9 157.5 L720.2 156.6 L723.9 152.5 L728.2 153.2 L731.5 144.5 L734.7 154.6 L738.3 146.7 L741.2 147.4 L744.1 153.9 L747.7 152.5 L750.6 155.3 L752.8 160.4 L757.8 161.9 L760 164 L762.2 159.7 L765.8 157.5 L767.9 161.1 L772.3 161.9 L778.1 157.5 L781.7 161.1 L784.6 166.9 L787.5 169.1 L790.4 166.2 L794 163.3 L796.9 168.4 L799.8 160.4 L804.1 165.5 L806.3 168.4" stroke="#000" stroke-width="1.1"/>
<path d="M465.6 164.56 L466.1 164.55 L466.6 164.55 L467.1 164.54 L467.6 164.54 L468.1 164.53 L468.6 164.53 L469.1 164.53 L469.6 164.52 L470.1 164.52 L470.6 164.51 L471.1 164.51 L471.6 164.5 L472.1 164.5 L472.6 164.49 L473.1 164.49 L473.6 164.48 L474.1 164.48 L474.6 164.47 L475.1 164.47 L475.6 164.46 L476.1 164.46 L476.6 164.45 L477.1 164.45 L477.6 164.44 L478.1 164.44 L478.6 164.43 L479.1 164.43 L479.6 164.42 L480.1 164.42 L480.6 164.41 L481.1 164.41 L481.6 164.4 L482.1 164.39 L482.6 164.39 L483.1 164.38 L483.6 164.38 L484.1 164.37 L484.6 164.37 L485.1 164.36 L485.6 164.36 L486.1 164.35 L486.6 164.34 L487.1 164.34 L487.6 164.33 L488.1 164.33 L488.6 164.32 L489.1 164.31 L489.6 164.31 L490.1 164.3 L490.6 164.3 L491.1 164.29 L491.6 164.28 L492.1 164.28 L492.6 164.27 L493.1 164.27 L493.6 164.26 L494.1 164.25 L494.6 164.25 L495.1 164.24 L495.6 164.23 L496.1 164.23 L496.6 164.22 L497.1 164.22 L497.6 164.21 L498.1 164.2 L498.6 164.2 L499.1 164.19 L499.6 164.18 L500.1 164.18 L500.6 164.17 L501.1 164.16 L501.6 164.16 L502.1 164.15 L502.6 164.14 L503.1 164.14 L503.6 164.13 L504.1 164.12 L504.6 164.12 L505.1 164.11 L505.6 164.1 L506.1 164.1 L506.6 164.09 L507.1 164.08 L507.6 164.08 L508.1 164.07 L508.6 164.06 L509.1 164.06 L509.6 164.05 L510.1 164.04 L510.6 164.03 L511.1 164.03 L511.6 164.02 L512.1 164.01 L512.6 164.01 L513.1 164 L513.6 163.99 L514.1 163.99 L514.6 163.98 L515.1 163.97 L515.6 163.96 L516.1 163.96 L516.6 163.95 L517.1 163.94 L517.6 163.93 L518.1 163.93 L518.6 163.92 L519.1 163.91 L519.6 163.91 L520.1 163.9 L520.6 163.89 L521.1 163.88 L521.6 163.88 L522.1 163.87 L522.6 163.86 L523.1 163.85 L523.6 163.84 L524.1 163.83 L524.6 163.82 L525.1 163.81 L525.6 163.8 L526.1 163.79 L526.6 163.78 L527.1 163.77 L527.6 163.76 L528.1 163.75 L528.6 163.74 L529.1 163.73 L529.6 163.72 L530.1 163.71 L530.6 163.7 L531.1 163.69 L531.6 163.68 L532.1 163.67 L532.6 163.65 L533.1 163.64 L533.6 163.63 L534.1 163.62 L534.6 163.61 L535.1 163.6 L535.6 163.59 L536.1 163.57 L536.6 163.56 L537.1 163.55 L537.6 163.54 L538.1 163.53 L538.6 163.52 L539.1 163.5 L539.6 163.49 L540.1 163.48 L540.6 163.47 L541.1 163.46 L541.6 163.45 L542.1 163.44 L542.6 163.42 L543.1 163.41 L543.6 163.4 L544.1 163.39 L544.6 163.38 L545.1 163.37 L545.6 163.36 L546.1 163.35 L546.6 163.34 L547.1 163.33 L547.6 163.32 L548.1 163.31 L548.6 163.3 L549.1 163.29 L549.6 163.28 L550.1 163.27 L550.6 163.26 L551.1 163.26 L551.6 163.25 L552.1 163.24 L552.6 163.23 L553.1 163.22 L553.6 163.22 L554.1 163.21 L554.6 163.2 L555.1 163.2 L555.6 163.19 L556.1 163.18 L556.6 163.18 L557.1 163.17 L557.6 163.17 L558.1 163.16 L558.6 163.16 L559.1 163.16 L559.6 163.15 L560.1 163.15 L560.6 163.15 L561.1 163.14 L561.6 163.14 L562.1 163.14 L562.6 163.13 L563.1 163.13 L563.6 163.13 L564.1 163.13 L564.6 163.12 L565.1 163.12 L565.6 163.12 L566.1 163.12 L566.6 163.12 L567.1 163.11 L567.6 163.11 L568.1 163.11 L568.6 163.11 L569.1 163.11 L569.6 163.1 L570.1 163.1 L570.6 163.1 L571.1 163.1 L571.6 163.1 L572.1 163.09 L572.6 163.09 L573.1 163.09 L573.6 163.09 L574.1 163.09 L574.6 163.09 L575.1 163.09 L575.6 163.08 L576.1 163.08 L576.6 163.08 L577.1 163.08 L577.6 163.08 L578.1 163.08 L578.6 163.08 L579.1 163.07 L579.6 163.07 L580.1 163.07 L580.6 163.07 L581.1 163.07 L581.6 163.07 L582.1 163.07 L582.6 163.06 L583.1 163.06 L583.6 163.06 L584.1 163.06 L584.6 163.06 L585.1 163.06 L585.6 163.06 L586.1 163.05 L586.6 163.05 L587.1 163.05 L587.6 163.05 L588.1 163.05 L588.6 163.05 L589.1 163.05 L589.6 163.04 L590.1 163.04 L590.6 163.04 L591.1 163.04 L591.6 163.04 L592.1 163.04 L592.6 163.03 L593.1 163.03 L593.6 163.03 L594.1 163.03 L594.6 163.03 L595.1 163.02 L595.6 163.02 L596.1 163.02 L596.6 163.02 L597.1 163.01 L597.6 163.01 L598.1 163.01 L598.6 163.01 L599.1 163 L599.6 163 L600.1 163 L600.6 163 L601.1 162.99 L601.6 162.99 L602.1 162.99 L602.6 162.98 L603.1 162.98 L603.6 162.98 L604.1 162.97 L604.6 162.97 L605.1 162.97 L605.6 162.96 L606.1 162.96 L606.6 162.95 L607.1 162.95 L607.6 162.94 L608.1 162.94 L608.6 162.93 L609.1 162.93 L609.6 162.92 L610.1 162.92 L610.6 162.91 L611.1 162.91 L611.6 162.9 L612.1 162.9 L612.6 162.89 L613.1 162.89 L613.6 162.88 L614.1 162.88 L614.6 162.87 L615.1 162.86 L615.6 162.86 L616.1 162.85 L616.6 162.85 L617.1 162.84 L617.6 162.83 L618.1 162.83 L618.6 162.82 L619.1 162.81 L619.6 162.81 L620.1 162.8 L620.6 162.79 L621.1 162.79 L621.6 162.78 L622.1 162.77 L622.6 162.77 L623.1 162.76 L623.6 162.75 L624.1 162.75 L624.6 162.74 L625.1 162.73 L625.6 162.72 L626.1 162.72 L626.6 162.71 L627.1 162.7 L627.6 162.7 L628.1 162.69 L628.6 162.68 L629.1 162.67 L629.6 162.67 L630.1 162.66 L630.6 162.65 L631.1 162.64 L631.6 162.63 L632.1 162.63 L632.6 162.62 L633.1 162.61 L633.6 162.6 L634.1 162.6 L634.6 162.59 L635.1 162.58 L635.6 162.57 L636.1 162.56 L636.6 162.56 L637.1 162.55 L637.6 162.54 L638.1 162.53 L638.6 162.53 L639.1 162.52 L639.6 162.51 L640.1 162.5 L640.6 162.49 L641.1 162.49 L641.6 162.48 L642.1 162.47 L642.6 162.46 L643.1 162.46 L643.6 162.45 L644.1 162.44 L644.6 162.43 L645.1 162.42 L645.6 162.42 L646.1 162.41 L646.6 162.4 L647.1 162.39 L647.6 162.39 L648.1 162.38 L648.6 162.37 L649.1 162.36 L649.6 162.36 L650.1 162.35 L650.6 162.34 L651.1 162.33 L651.6 162.33 L652.1 162.32 L652.6 162.31 L653.1 162.3 L653.6 162.3 L654.1 162.29 L654.6 162.28 L655.1 162.28 L655.6 162.27 L656.1 162.26 L656.6 162.26 L657.1 162.25 L657.6 162.24 L658.1 162.24 L658.6 162.23 L659.1 162.22 L659.6 162.22 L660.1 162.21 L660.6 162.2 L661.1 162.2 L661.6 162.19 L662.1 162.18 L662.6 162.18 L663.1 162.17 L663.6 162.17 L664.1 162.16 L664.6 162.16 L665.1 162.15 L665.6 162.14 L666.1 162.14 L666.6 162.13 L667.1 162.13 L667.6 162.12 L668.1 162.12 L668.6 162.11 L669.1 162.11 L669.6 162.1 L670.1 162.1 L670.6 162.09 L671.1 162.09 L671.6 162.09 L672.1 162.08 L672.6 162.08 L673.1 162.07 L673.6 162.07 L674.1 162.06 L674.6 162.06 L675.1 162.05 L675.6 162.05 L676.1 162.04 L676.6 162.04 L677.1 162.03 L677.6 162.03 L678.1 162.02 L678.6 162.02 L679.1 162.01 L679.6 162.01 L680.1 162 L680.6 162 L681.1 161.99 L681.6 161.99 L682.1 161.98 L682.6 161.98 L683.1 161.97 L683.6 161.97 L684.1 161.96 L684.6 161.96 L685.1 161.95 L685.6 161.95 L686.1 161.95 L686.6 161.94 L687.1 161.94 L687.6 161.93 L688.1 161.93 L688.6 161.92 L689.1 161.92 L689.6 161.91 L690.1 161.91 L690.6 161.9 L691.1 161.9 L691.6 161.89 L692.1 161.89 L692.6 161.88 L693.1 161.88 L693.6 161.87 L694.1 161.87 L694.6 161.86 L695.1 161.86 L695.6 161.85 L696.1 161.85 L696.6 161.84 L697.1 161.84 L697.6 161.84 L698.1 161.83 L698.6 161.83 L699.1 161.82 L699.6 161.82 L700.1 161.81 L700.6 161.81 L701.1 161.8 L701.6 161.8 L702.1 161.79 L702.6 161.79 L703.1 161.79 L703.6 161.78 L704.1 161.78 L704.6 161.77 L705.1 161.77 L705.6 161.76 L706.1 161.76 L706.6 161.76 L707.1 161.75 L707.6 161.75 L708.1 161.74 L708.6 161.74 L709.1 161.74 L709.6 161.73 L710.1 161.73 L710.6 161.72 L711.1 161.72 L711.6 161.72 L712.1 161.71 L712.6 161.71 L713.1 161.71 L713.6 161.7 L714.1 161.7 L714.6 161.7 L715.1 161.69 L715.6 161.69 L716.1 161.69 L716.6 161.68 L717.1 161.68 L717.6 161.68 L718.1 161.67 L718.6 161.67 L719.1 161.67 L719.6 161.66 L720.1 161.66 L720.6 161.66 L721.1 161.66 L721.6 161.65 L722.1 161.65 L722.6 161.65 L723.1 161.64 L723.6 161.64 L724.1 161.64 L724.6 161.64 L725.1 161.64 L725.6 161.63 L726.1 161.63 L726.6 161.63 L727.1 161.63 L727.6 161.62 L728.1 161.62 L728.6 161.62 L729.1 161.62 L729.6 161.62 L730.1 161.62 L730.6 161.61 L731.1 161.61 L731.6 161.61 L732.1 161.61 L732.6 161.61 L733.1 161.61 L733.6 161.61 L734.1 161.61 L734.6 161.6 L735.1 161.6 L735.6 161.6 L736.1 161.6 L736.6 161.6 L737.1 161.6 L737.6 161.6 L738.1 161.6 L738.6 161.6 L739.1 161.6 L739.6 161.6 L740.1 161.6 L740.6 161.6 L741.1 161.6 L741.6 161.6 L742.1 161.6 L742.6 161.6 L743.1 161.6 L743.6 161.6 L744.1 161.6 L744.6 161.6 L745.1 161.6 L745.6 161.6 L746.1 161.6 L746.6 161.6 L747.1 161.6 L747.6 161.6 L748.1 161.6 L748.6 161.61 L749.1 161.61 L749.6 161.61 L750.1 161.61 L750.6 161.61 L751.1 161.61 L751.6 161.61 L752.1 161.61 L752.6 161.61 L753.1 161.61 L753.6 161.61 L754.1 161.61 L754.6 161.62 L755.1 161.62 L755.6 161.62 L756.1 161.62 L756.6 161.62 L757.1 161.62 L757.6 161.62 L758.1 161.62 L758.6 161.63 L759.1 161.63 L759.6 161.63 L760.1 161.63 L760.6 161.63 L761.1 161.63 L761.6 161.63 L762.1 161.64 L762.6 161.64 L763.1 161.64 L763.6 161.64 L764.1 161.64 L764.6 161.65 L765.1 161.65 L765.6 161.65 L766.1 161.65 L766.6 161.65 L767.1 161.66 L767.6 161.66 L768.1 161.66 L768.6 161.66 L769.1 161.66 L769.6 161.67 L770.1 161.67 L770.6 161.67 L771.1 161.67 L771.6 161.68 L772.1 161.68 L772.6 161.68 L773.1 161.68 L773.6 161.69 L774.1 161.69 L774.6 161.69 L775.1 161.69 L775.6 161.7 L776.1 161.7 L776.6 161.7 L777.1 161.71 L777.6 161.71 L778.1 161.71 L778.6 161.71 L779.1 161.72 L779.6 161.72 L780.1 161.72 L780.6 161.73 L781.1 161.73 L781.6 161.73 L782.1 161.74 L782.6 161.74 L783.1 161.74 L783.6 161.75 L784.1 161.75 L784.6 161.76 L785.1 161.76 L785.6 161.76 L786.1 161.77 L786.6 161.77 L787.1 161.77 L787.6 161.78 L788.1 161.78 L788.6 161.79 L789.1 161.79 L789.6 161.79 L790.1 161.8 L790.6 161.8 L791.1 161.81 L791.6 161.81 L792.1 161.81 L792.6 161.82 L793.1 161.82 L793.6 161.83 L794.1 161.83 L794.6 161.84 L795.1 161.84 L795.6 161.85 L796.1 161.85 L796.6 161.86 L797.1 161.86 L797.6 161.86 L798.1 161.87 L798.6 161.87 L799.1 161.88 L799.6 161.88 L800.1 161.89 L800.6 161.89 L801.1 161.9 L801.6 161.91 L802.1 161.91 L802.6 161.92 L803.1 161.92 L803.6 161.93 L804.1 161.93 L804.6 161.94 L805.1 161.94 L805.6 161.95" stroke="#04ec20" stroke-width="2.1" stroke-dasharray="5.5 5.56"/>
<path d="M465.6 162.77 L466.1 162.76 L466.6 162.74 L467.1 162.72 L467.6 162.7 L468.1 162.69 L468.6 162.67 L469.1 162.65 L469.6 162.63 L470.1 162.61 L470.6 162.6 L471.1 162.58 L471.6 162.56 L472.1 162.54 L472.6 162.52 L473.1 162.5 L473.6 162.48 L474.1 162.46 L474.6 162.44 L475.1 162.42 L475.6 162.4 L476.1 162.38 L476.6 162.36 L477.1 162.34 L477.6 162.32 L478.1 162.3 L478.6 162.28 L479.1 162.25 L479.6 162.23 L480.1 162.21 L480.6 162.19 L481.1 162.17 L481.6 162.14 L482.1 162.12 L482.6 162.1 L483.1 162.08 L483.6 162.05 L484.1 162.03 L484.6 162.01 L485.1 161.98 L485.6 161.96 L486.1 161.93 L486.6 161.91 L487.1 161.89 L487.6 161.86 L488.1 161.84 L488.6 161.81 L489.1 161.78 L489.6 161.76 L490.1 161.73 L490.6 161.71 L491.1 161.68 L491.6 161.65 L492.1 161.63 L492.6 161.6 L493.1 161.57 L493.6 161.55 L494.1 161.52 L494.6 161.49 L495.1 161.46 L495.6 161.43 L496.1 161.4 L496.6 161.38 L497.1 161.35 L497.6 161.32 L498.1 161.29 L498.6 161.26 L499.1 161.23 L499.6 161.2 L500.1 161.17 L500.6 161.13 L501.1 161.1 L501.6 161.07 L502.1 161.04 L502.6 161.01 L503.1 160.97 L503.6 160.94 L504.1 160.91 L504.6 160.87 L505.1 160.84 L505.6 160.81 L506.1 160.77 L506.6 160.74 L507.1 160.7 L507.6 160.67 L508.1 160.63 L508.6 160.59 L509.1 160.56 L509.6 160.52 L510.1 160.48 L510.6 160.44 L511.1 160.41 L511.6 160.37 L512.1 160.33 L512.6 160.29 L513.1 160.25 L513.6 160.21 L514.1 160.17 L514.6 160.13 L515.1 160.09 L515.6 160.04 L516.1 160 L516.6 159.96 L517.1 159.92 L517.6 159.87 L518.1 159.83 L518.6 159.78 L519.1 159.74 L519.6 159.69 L520.1 159.64 L520.6 159.6 L521.1 159.55 L521.6 159.5 L522.1 159.45 L522.6 159.4 L523.1 159.35 L523.6 159.29 L524.1 159.24 L524.6 159.18 L525.1 159.13 L525.6 159.07 L526.1 159.02 L526.6 158.96 L527.1 158.9 L527.6 158.84 L528.1 158.78 L528.6 158.71 L529.1 158.65 L529.6 158.59 L530.1 158.52 L530.6 158.45 L531.1 158.39 L531.6 158.32 L532.1 158.25 L532.6 158.18 L533.1 158.1 L533.6 158.03 L534.1 157.95 L534.6 157.88 L535.1 157.8 L535.6 157.72 L536.1 157.64 L536.6 157.55 L537.1 157.47 L537.6 157.38 L538.1 157.3 L538.6 157.21 L539.1 157.11 L539.6 157.02 L540.1 156.93 L540.6 156.83 L541.1 156.73 L541.6 156.63 L542.1 156.52 L542.6 156.42 L543.1 156.31 L543.6 156.2 L544.1 156.09 L544.6 155.97 L545.1 155.85 L545.6 155.73 L546.1 155.61 L546.6 155.48 L547.1 155.35 L547.6 155.22 L548.1 155.08 L548.6 154.94 L549.1 154.8 L549.6 154.65 L550.1 154.5 L550.6 154.35 L551.1 154.19 L551.6 154.03 L552.1 153.87 L552.6 153.7 L553.1 153.52 L553.6 153.34 L554.1 153.16 L554.6 152.97 L555.1 152.78 L555.6 152.58 L556.1 152.38 L556.6 152.17 L557.1 151.96 L557.6 151.74 L558.1 151.51 L558.6 151.28 L559.1 151.04 L559.6 150.8 L560.1 150.55 L560.6 150.29 L561.1 150.03 L561.6 149.76 L562.1 149.48 L562.6 149.2 L563.1 148.91 L563.6 148.61 L564.1 148.3 L564.6 147.99 L565.1 147.66 L565.6 147.33 L566.1 146.99 L566.6 146.64 L567.1 146.28 L567.6 145.91 L568.1 145.54 L568.6 145.15 L569.1 144.76 L569.6 144.35 L570.1 143.94 L570.6 143.52 L571.1 143.08 L571.6 142.64 L572.1 142.18 L572.6 141.72 L573.1 141.25 L573.6 140.76 L574.1 140.27 L574.6 139.76 L575.1 139.24 L575.6 138.72 L576.1 138.18 L576.6 137.63 L577.1 137.07 L577.6 136.49 L578.1 135.91 L578.6 135.32 L579.1 134.71 L579.6 134.1 L580.1 133.47 L580.6 132.83 L581.1 132.18 L581.6 131.52 L582.1 130.85 L582.6 130.16 L583.1 129.47 L583.6 128.76 L584.1 128.05 L584.6 127.32 L585.1 126.6 L585.6 125.88 L586.1 125.19 L586.6 124.56 L587.1 124.06 L587.6 123.78 L588.1 123.85 L588.6 124.45 L589.1 125.76 L589.6 127.97 L590.1 131.23 L590.6 135.62 L591.1 141.09 L591.6 147.47 L592.1 154.45 L592.6 161.65 L593.1 168.61 L593.6 174.91 L594.1 180.2" stroke="#5520dc" stroke-width="2.15" stroke-dasharray="10.9 5.7" stroke-dashoffset="16.17"/>
<path d="M598.6 180.76 L599.1 176.39 L599.6 170.67 L600.1 163.68 L600.6 155.62 L601.1 146.83 L601.6 137.72 L602.1 128.74 L602.6 120.3 L603.1 112.71 L603.6 106.18 L604.1 100.79 L604.6 96.47 L605.1 93.1 L605.6 90.48 L606.1 88.43 L606.6 86.76 L607.1 85.34 L607.6 84.07 L608.1 82.88 L608.6 81.73 L609.1 80.6 L609.6 79.47 L610.1 78.33 L610.6 77.2 L611.1 76.06 L611.6 74.91 L612.1 73.77 L612.6 72.61 L613.1 71.46 L613.6 70.29 L614.1 69.13 L614.6 67.96 L615.1 66.79 L615.6 65.61 L616.1 64.44 L616.6 63.26 L617.1 62.08 L617.6 60.89 L618.1 59.71 L618.6 58.53 L619.1 57.35 L619.6 56.17 L620.1 54.99 L620.6 53.82 L621.1 52.65 L621.6 51.49 L622.1 50.34 L622.6 49.2 L623.1 48.07 L623.6 46.95 L624.1 45.84 L624.6 44.75 L625.1 43.68 L625.6 42.64 L626.1 41.61 L626.6 40.61 L627.1 39.64 L627.6 38.7 L628.1 37.79 L628.6 36.93 L629.1 36.1 L629.6 35.31 L630.1 34.57 L630.6 33.88 L631.1 33.24 L631.6 32.65 L632.1 32.12 L632.6 31.66 L633.1 31.25 L633.6 30.91 L634.1 30.65 L634.6 30.45 L635.1 30.32 L635.6 30.27 L636.1 30.3 L636.6 30.4 L637.1 30.58 L637.6 30.84 L638.1 31.18 L638.6 31.6 L639.1 32.1 L639.6 32.68 L640.1 33.34 L640.6 34.07 L641.1 34.88 L641.6 35.77 L642.1 36.72 L642.6 37.75 L643.1 38.85 L643.6 40.02 L644.1 41.28 L644.6 42.66 L645.1 44.18 L645.6 45.94 L646.1 48.03 L646.6 50.62 L647.1 53.88 L647.6 58.01 L648.1 63.18 L648.6 69.44 L649.1 76.69 L649.6 84.61 L650.1 92.66 L650.6 100.14 L651.1 106.33 L651.6 110.58 L652.1 112.52 L652.6 112.1 L653.1 109.64 L653.6 105.72 L654.1 101.07 L654.6 96.4 L655.1 92.29 L655.6 89.09 L656.1 86.94 L656.6 85.83 L657.1 85.61 L657.6 86.11 L658.1 87.18 L658.6 88.7 L659.1 90.63 L659.6 93.01 L660.1 95.91 L660.6 99.5 L661.1 103.95 L661.6 109.5 L662.1 116.35 L662.6 124.69 L663.1 134.63 L663.6 146.18 L664.1 159.19 L664.6 173.31 L665.1 188.05" stroke="#5520dc" stroke-width="2.15" stroke-dasharray="10.9 5.7" stroke-dashoffset="12.28"/>
<path d="M671.6 188.32 L672.1 176.35 L672.6 165.51 L673.1 156.12 L673.6 148.34 L674.1 142.17 L674.6 137.5 L675.1 134.14 L675.6 131.86 L676.1 130.44 L676.6 129.68 L677.1 129.39 L677.6 129.44 L678.1 129.7 L678.6 130.1 L679.1 130.59 L679.6 131.12 L680.1 131.67 L680.6 132.23 L681.1 132.78 L681.6 133.33 L682.1 133.86 L682.6 134.39 L683.1 134.9 L683.6 135.4 L684.1 135.88 L684.6 136.36 L685.1 136.82 L685.6 137.27 L686.1 137.71 L686.6 138.14 L687.1 138.56 L687.6 138.96 L688.1 139.36 L688.6 139.75 L689.1 140.13 L689.6 140.5 L690.1 140.86 L690.6 141.21 L691.1 141.55 L691.6 141.89 L692.1 142.21 L692.6 142.53 L693.1 142.84 L693.6 143.15 L694.1 143.44 L694.6 143.73 L695.1 144.02 L695.6 144.29 L696.1 144.56 L696.6 144.83 L697.1 145.09 L697.6 145.34 L698.1 145.58 L698.6 145.83 L699.1 146.06 L699.6 146.29 L700.1 146.52 L700.6 146.74 L701.1 146.95 L701.6 147.17 L702.1 147.37 L702.6 147.58 L703.1 147.77 L703.6 147.97 L704.1 148.16 L704.6 148.34 L705.1 148.53 L705.6 148.7 L706.1 148.88 L706.6 149.05 L707.1 149.22 L707.6 149.38 L708.1 149.55 L708.6 149.7 L709.1 149.86 L709.6 150.01 L710.1 150.16 L710.6 150.31 L711.1 150.45 L711.6 150.59 L712.1 150.73 L712.6 150.87 L713.1 151 L713.6 151.13 L714.1 151.26 L714.6 151.39 L715.1 151.51 L715.6 151.63 L716.1 151.75 L716.6 151.87 L717.1 151.99 L717.6 152.1 L718.1 152.21 L718.6 152.32 L719.1 152.43 L719.6 152.54 L720.1 152.64 L720.6 152.75 L721.1 152.85 L721.6 152.95 L722.1 153.04 L722.6 153.14 L723.1 153.24 L723.6 153.33 L724.1 153.42 L724.6 153.51 L725.1 153.6 L725.6 153.69 L726.1 153.77 L726.6 153.86 L727.1 153.94 L727.6 154.03 L728.1 154.11 L728.6 154.19 L729.1 154.27 L729.6 154.34 L730.1 154.42 L730.6 154.5 L731.1 154.57 L731.6 154.65 L732.1 154.72 L732.6 154.79 L733.1 154.86 L733.6 154.93 L734.1 155 L734.6 155.07 L735.1 155.13 L735.6 155.2 L736.1 155.26 L736.6 155.33 L737.1 155.39 L737.6 155.46 L738.1 155.52 L738.6 155.58 L739.1 155.64 L739.6 155.7 L740.1 155.76 L740.6 155.82 L741.1 155.87 L741.6 155.93 L742.1 155.99 L742.6 156.04 L743.1 156.1 L743.6 156.15 L744.1 156.2 L744.6 156.26 L745.1 156.31 L745.6 156.36 L746.1 156.41 L746.6 156.46 L747.1 156.51 L747.6 156.56 L748.1 156.61 L748.6 156.65 L749.1 156.7 L749.6 156.75 L750.1 156.79 L750.6 156.84 L751.1 156.88 L751.6 156.93 L752.1 156.97 L752.6 157.02 L753.1 157.06 L753.6 157.1 L754.1 157.14 L754.6 157.19 L755.1 157.23 L755.6 157.27 L756.1 157.31 L756.6 157.35 L757.1 157.39 L757.6 157.43 L758.1 157.47 L758.6 157.5 L759.1 157.54 L759.6 157.58 L760.1 157.62 L760.6 157.65 L761.1 157.69 L761.6 157.73 L762.1 157.76 L762.6 157.8 L763.1 157.83 L763.6 157.87 L764.1 157.9 L764.6 157.94 L765.1 157.97 L765.6 158 L766.1 158.04 L766.6 158.07 L767.1 158.1 L767.6 158.13 L768.1 158.16 L768.6 158.2 L769.1 158.23 L769.6 158.26 L770.1 158.29 L770.6 158.32 L771.1 158.35 L771.6 158.38 L772.1 158.41 L772.6 158.44 L773.1 158.47 L773.6 158.5 L774.1 158.53 L774.6 158.55 L775.1 158.58 L775.6 158.61 L776.1 158.64 L776.6 158.67 L777.1 158.69 L777.6 158.72 L778.1 158.75 L778.6 158.78 L779.1 158.8 L779.6 158.83 L780.1 158.85 L780.6 158.88 L781.1 158.91 L781.6 158.93 L782.1 158.96 L782.6 158.98 L783.1 159.01 L783.6 159.03 L784.1 159.06 L784.6 159.08 L785.1 159.11 L785.6 159.13 L786.1 159.16 L786.6 159.18 L787.1 159.2 L787.6 159.23 L788.1 159.25 L788.6 159.28 L789.1 159.3 L789.6 159.32 L790.1 159.34 L790.6 159.37 L791.1 159.39 L791.6 159.41 L792.1 159.44 L792.6 159.46 L793.1 159.48 L793.6 159.5 L794.1 159.52 L794.6 159.55 L795.1 159.57 L795.6 159.59 L796.1 159.61 L796.6 159.63 L797.1 159.65 L797.6 159.68 L798.1 159.7 L798.6 159.72 L799.1 159.74 L799.6 159.76 L800.1 159.78 L800.6 159.8 L801.1 159.82 L801.6 159.84 L802.1 159.86 L802.6 159.88 L803.1 159.9 L803.6 159.92 L804.1 159.94 L804.6 159.96 L805.1 159.98 L805.6 160" stroke="#5520dc" stroke-width="2.15" stroke-dasharray="10.9 5.7" stroke-dashoffset="6.42"/>
<path d="M465.6 162.03 L466.1 162.02 L466.6 162 L467.1 161.99 L467.6 161.98 L468.1 161.96 L468.6 161.95 L469.1 161.94 L469.6 161.92 L470.1 161.91 L470.6 161.9 L471.1 161.88 L471.6 161.87 L472.1 161.85 L472.6 161.84 L473.1 161.82 L473.6 161.81 L474.1 161.79 L474.6 161.78 L475.1 161.76 L475.6 161.75 L476.1 161.73 L476.6 161.72 L477.1 161.7 L477.6 161.69 L478.1 161.67 L478.6 161.66 L479.1 161.64 L479.6 161.62 L480.1 161.61 L480.6 161.59 L481.1 161.57 L481.6 161.56 L482.1 161.54 L482.6 161.52 L483.1 161.5 L483.6 161.49 L484.1 161.47 L484.6 161.45 L485.1 161.43 L485.6 161.41 L486.1 161.4 L486.6 161.38 L487.1 161.36 L487.6 161.34 L488.1 161.32 L488.6 161.3 L489.1 161.28 L489.6 161.26 L490.1 161.24 L490.6 161.22 L491.1 161.2 L491.6 161.18 L492.1 161.16 L492.6 161.14 L493.1 161.12 L493.6 161.1 L494.1 161.08 L494.6 161.05 L495.1 161.03 L495.6 161.01 L496.1 160.99 L496.6 160.97 L497.1 160.94 L497.6 160.92 L498.1 160.9 L498.6 160.87 L499.1 160.85 L499.6 160.82 L500.1 160.8 L500.6 160.78 L501.1 160.75 L501.6 160.73 L502.1 160.7 L502.6 160.68 L503.1 160.65 L503.6 160.62 L504.1 160.6 L504.6 160.57 L505.1 160.54 L505.6 160.52 L506.1 160.49 L506.6 160.46 L507.1 160.43 L507.6 160.4 L508.1 160.37 L508.6 160.35 L509.1 160.32 L509.6 160.29 L510.1 160.26 L510.6 160.23 L511.1 160.2 L511.6 160.16 L512.1 160.13 L512.6 160.1 L513.1 160.07 L513.6 160.04 L514.1 160 L514.6 159.97 L515.1 159.94 L515.6 159.9 L516.1 159.87 L516.6 159.83 L517.1 159.8 L517.6 159.76 L518.1 159.73 L518.6 159.69 L519.1 159.65 L519.6 159.62 L520.1 159.58 L520.6 159.54 L521.1 159.5 L521.6 159.46 L522.1 159.42 L522.6 159.38 L523.1 159.34 L523.6 159.3 L524.1 159.26 L524.6 159.22 L525.1 159.17 L525.6 159.13 L526.1 159.09 L526.6 159.04 L527.1 159 L527.6 158.95 L528.1 158.91 L528.6 158.86 L529.1 158.81 L529.6 158.77 L530.1 158.72 L530.6 158.67 L531.1 158.62 L531.6 158.57 L532.1 158.52 L532.6 158.47 L533.1 158.41 L533.6 158.36 L534.1 158.31 L534.6 158.25 L535.1 158.2 L535.6 158.14 L536.1 158.08 L536.6 158.03 L537.1 157.97 L537.6 157.91 L538.1 157.85 L538.6 157.79 L539.1 157.73 L539.6 157.67 L540.1 157.6 L540.6 157.54 L541.1 157.47 L541.6 157.41 L542.1 157.34 L542.6 157.27 L543.1 157.21 L543.6 157.14 L544.1 157.07 L544.6 156.99 L545.1 156.92 L545.6 156.85 L546.1 156.77 L546.6 156.7 L547.1 156.62 L547.6 156.54 L548.1 156.46 L548.6 156.38 L549.1 156.3 L549.6 156.22 L550.1 156.13 L550.6 156.05 L551.1 155.96 L551.6 155.87 L552.1 155.78 L552.6 155.69 L553.1 155.6 L553.6 155.5 L554.1 155.41 L554.6 155.31 L555.1 155.21 L555.6 155.11 L556.1 155.01 L556.6 154.91 L557.1 154.8 L557.6 154.7 L558.1 154.59 L558.6 154.48 L559.1 154.37 L559.6 154.25 L560.1 154.14 L560.6 154.02 L561.1 153.9 L561.6 153.78 L562.1 153.65 L562.6 153.53 L563.1 153.4 L563.6 153.27 L564.1 153.14 L564.6 153 L565.1 152.87 L565.6 152.73 L566.1 152.58 L566.6 152.44 L567.1 152.29 L567.6 152.14 L568.1 151.99 L568.6 151.84 L569.1 151.68 L569.6 151.52 L570.1 151.35 L570.6 151.19 L571.1 151.02 L571.6 150.84 L572.1 150.67 L572.6 150.49 L573.1 150.31 L573.6 150.12 L574.1 149.93 L574.6 149.74 L575.1 149.54 L575.6 149.34 L576.1 149.13 L576.6 148.92 L577.1 148.71 L577.6 148.49 L578.1 148.27 L578.6 148.05 L579.1 147.82 L579.6 147.58 L580.1 147.34 L580.6 147.1 L581.1 146.85 L581.6 146.59 L582.1 146.33 L582.6 146.07 L583.1 145.8 L583.6 145.52 L584.1 145.24 L584.6 144.95 L585.1 144.66 L585.6 144.36 L586.1 144.05 L586.6 143.74 L587.1 143.42 L587.6 143.09 L588.1 142.76 L588.6 142.42 L589.1 142.07 L589.6 141.71 L590.1 141.35 L590.6 140.98 L591.1 140.6 L591.6 140.21 L592.1 139.81 L592.6 139.41 L593.1 138.99 L593.6 138.57 L594.1 138.14 L594.6 137.69 L595.1 137.24 L595.6 136.78 L596.1 136.3 L596.6 135.82 L597.1 135.32 L597.6 134.81 L598.1 134.3 L598.6 133.76 L599.1 133.22 L599.6 132.67 L600.1 132.1 L600.6 131.52 L601.1 130.92 L601.6 130.32 L602.1 129.69 L602.6 129.06 L603.1 128.41 L603.6 127.74 L604.1 127.06 L604.6 126.36 L605.1 125.65 L605.6 124.92 L606.1 124.18 L606.6 123.42 L607.1 122.64 L607.6 121.85 L608.1 121.03 L608.6 120.2 L609.1 119.35 L609.6 118.49 L610.1 117.6 L610.6 116.7 L611.1 115.78 L611.6 114.83 L612.1 113.87 L612.6 112.9 L613.1 111.9 L613.6 110.88 L614.1 109.84 L614.6 108.79 L615.1 107.72 L615.6 106.63 L616.1 105.52 L616.6 104.39 L617.1 103.24 L617.6 102.08 L618.1 100.9 L618.6 99.71 L619.1 98.5 L619.6 97.28 L620.1 96.05 L620.6 94.8 L621.1 93.55 L621.6 92.28 L622.1 91.01 L622.6 89.73 L623.1 88.45 L623.6 87.17 L624.1 85.88 L624.6 84.6 L625.1 83.32 L625.6 82.05 L626.1 80.79 L626.6 79.55 L627.1 78.31 L627.6 77.1 L628.1 75.91 L628.6 74.74 L629.1 73.6 L629.6 72.49 L630.1 71.42 L630.6 70.38 L631.1 69.39 L631.6 68.44 L632.1 67.54 L632.6 66.69 L633.1 65.9 L633.6 65.16 L634.1 64.48 L634.6 63.87 L635.1 63.32 L635.6 62.84 L636.1 62.43 L636.6 62.1 L637.1 61.83 L637.6 61.64 L638.1 61.53 L638.6 61.49 L639.1 61.53 L639.6 61.64 L640.1 61.83 L640.6 62.1 L641.1 62.43 L641.6 62.84 L642.1 63.32 L642.6 63.87 L643.1 64.48 L643.6 65.16 L644.1 65.9 L644.6 66.69 L645.1 67.54 L645.6 68.44 L646.1 69.39 L646.6 70.38 L647.1 71.42 L647.6 72.49 L648.1 73.6 L648.6 74.74 L649.1 75.91 L649.6 77.1 L650.1 78.31 L650.6 79.55 L651.1 80.79 L651.6 82.05 L652.1 83.32 L652.6 84.6 L653.1 85.88 L653.6 87.17 L654.1 88.45 L654.6 89.73 L655.1 91.01 L655.6 92.28 L656.1 93.55 L656.6 94.8 L657.1 96.05 L657.6 97.28 L658.1 98.5 L658.6 99.71 L659.1 100.9 L659.6 102.08 L660.1 103.24 L660.6 104.39 L661.1 105.52 L661.6 106.63 L662.1 107.72 L662.6 108.79 L663.1 109.84 L663.6 110.88 L664.1 111.9 L664.6 112.9 L665.1 113.87 L665.6 114.83 L666.1 115.78 L666.6 116.7 L667.1 117.6 L667.6 118.49 L668.1 119.35 L668.6 120.2 L669.1 121.03 L669.6 121.85 L670.1 122.64 L670.6 123.42 L671.1 124.18 L671.6 124.92 L672.1 125.65 L672.6 126.36 L673.1 127.06 L673.6 127.74 L674.1 128.41 L674.6 129.06 L675.1 129.69 L675.6 130.32 L676.1 130.92 L676.6 131.52 L677.1 132.1 L677.6 132.67 L678.1 133.22 L678.6 133.76 L679.1 134.3 L679.6 134.81 L680.1 135.32 L680.6 135.82 L681.1 136.3 L681.6 136.78 L682.1 137.24 L682.6 137.69 L683.1 138.14 L683.6 138.57 L684.1 138.99 L684.6 139.41 L685.1 139.81 L685.6 140.21 L686.1 140.6 L686.6 140.98 L687.1 141.35 L687.6 141.71 L688.1 142.07 L688.6 142.42 L689.1 142.76 L689.6 143.09 L690.1 143.42 L690.6 143.74 L691.1 144.05 L691.6 144.36 L692.1 144.66 L692.6 144.95 L693.1 145.24 L693.6 145.52 L694.1 145.8 L694.6 146.07 L695.1 146.33 L695.6 146.59 L696.1 146.85 L696.6 147.1 L697.1 147.34 L697.6 147.58 L698.1 147.82 L698.6 148.05 L699.1 148.27 L699.6 148.49 L700.1 148.71 L700.6 148.92 L701.1 149.13 L701.6 149.34 L702.1 149.54 L702.6 149.74 L703.1 149.93 L703.6 150.12 L704.1 150.31 L704.6 150.49 L705.1 150.67 L705.6 150.84 L706.1 151.02 L706.6 151.19 L707.1 151.35 L707.6 151.52 L708.1 151.68 L708.6 151.84 L709.1 151.99 L709.6 152.14 L710.1 152.29 L710.6 152.44 L711.1 152.58 L711.6 152.73 L712.1 152.87 L712.6 153 L713.1 153.14 L713.6 153.27 L714.1 153.4 L714.6 153.53 L715.1 153.65 L715.6 153.78 L716.1 153.9 L716.6 154.02 L717.1 154.14 L717.6 154.25 L718.1 154.37 L718.6 154.48 L719.1 154.59 L719.6 154.7 L720.1 154.8 L720.6 154.91 L721.1 155.01 L721.6 155.11 L722.1 155.21 L722.6 155.31 L723.1 155.41 L723.6 155.5 L724.1 155.6 L724.6 155.69 L725.1 155.78 L725.6 155.87 L726.1 155.96 L726.6 156.05 L727.1 156.13 L727.6 156.22 L728.1 156.3 L728.6 156.38 L729.1 156.46 L729.6 156.54 L730.1 156.62 L730.6 156.7 L731.1 156.77 L731.6 156.85 L732.1 156.92 L732.6 156.99 L733.1 157.07 L733.6 157.14 L734.1 157.21 L734.6 157.27 L735.1 157.34 L735.6 157.41 L736.1 157.47 L736.6 157.54 L737.1 157.6 L737.6 157.67 L738.1 157.73 L738.6 157.79 L739.1 157.85 L739.6 157.91 L740.1 157.97 L740.6 158.03 L741.1 158.08 L741.6 158.14 L742.1 158.2 L742.6 158.25 L743.1 158.31 L743.6 158.36 L744.1 158.41 L744.6 158.47 L745.1 158.52 L745.6 158.57 L746.1 158.62 L746.6 158.67 L747.1 158.72 L747.6 158.77 L748.1 158.81 L748.6 158.86 L749.1 158.91 L749.6 158.95 L750.1 159 L750.6 159.04 L751.1 159.09 L751.6 159.13 L752.1 159.17 L752.6 159.22 L753.1 159.26 L753.6 159.3 L754.1 159.34 L754.6 159.38 L755.1 159.42 L755.6 159.46 L756.1 159.5 L756.6 159.54 L757.1 159.58 L757.6 159.62 L758.1 159.65 L758.6 159.69 L759.1 159.73 L759.6 159.76 L760.1 159.8 L760.6 159.83 L761.1 159.87 L761.6 159.9 L762.1 159.94 L762.6 159.97 L763.1 160 L763.6 160.04 L764.1 160.07 L764.6 160.1 L765.1 160.13 L765.6 160.16 L766.1 160.2 L766.6 160.23 L767.1 160.26 L767.6 160.29 L768.1 160.32 L768.6 160.35 L769.1 160.37 L769.6 160.4 L770.1 160.43 L770.6 160.46 L771.1 160.49 L771.6 160.52 L772.1 160.54 L772.6 160.57 L773.1 160.6 L773.6 160.62 L774.1 160.65 L774.6 160.68 L775.1 160.7 L775.6 160.73 L776.1 160.75 L776.6 160.78 L777.1 160.8 L777.6 160.82 L778.1 160.85 L778.6 160.87 L779.1 160.9 L779.6 160.92 L780.1 160.94 L780.6 160.97 L781.1 160.99 L781.6 161.01 L782.1 161.03 L782.6 161.05 L783.1 161.08 L783.6 161.1 L784.1 161.12 L784.6 161.14 L785.1 161.16 L785.6 161.18 L786.1 161.2 L786.6 161.22 L787.1 161.24 L787.6 161.26 L788.1 161.28 L788.6 161.3 L789.1 161.32 L789.6 161.34 L790.1 161.36 L790.6 161.38 L791.1 161.4 L791.6 161.41 L792.1 161.43 L792.6 161.45 L793.1 161.47 L793.6 161.49 L794.1 161.5 L794.6 161.52 L795.1 161.54 L795.6 161.56 L796.1 161.57 L796.6 161.59 L797.1 161.61 L797.6 161.62 L798.1 161.64 L798.6 161.66 L799.1 161.67 L799.6 161.69 L800.1 161.7 L800.6 161.72 L801.1 161.73 L801.6 161.75 L802.1 161.76 L802.6 161.78 L803.1 161.79 L803.6 161.81 L804.1 161.82 L804.6 161.84 L805.1 161.85 L805.6 161.87" stroke="#000" stroke-width="2.2"/>
<path d="M465.6 164.79 L466.1 164.79 L466.6 164.79 L467.1 164.79 L467.6 164.79 L468.1 164.79 L468.6 164.79 L469.1 164.79 L469.6 164.79 L470.1 164.79 L470.6 164.79 L471.1 164.79 L471.6 164.79 L472.1 164.79 L472.6 164.79 L473.1 164.79 L473.6 164.79 L474.1 164.79 L474.6 164.79 L475.1 164.79 L475.6 164.79 L476.1 164.79 L476.6 164.79 L477.1 164.79 L477.6 164.79 L478.1 164.79 L478.6 164.79 L479.1 164.79 L479.6 164.79 L480.1 164.79 L480.6 164.79 L481.1 164.79 L481.6 164.79 L482.1 164.79 L482.6 164.79 L483.1 164.79 L483.6 164.79 L484.1 164.79 L484.6 164.79 L485.1 164.79 L485.6 164.79 L486.1 164.79 L486.6 164.79 L487.1 164.79 L487.6 164.79 L488.1 164.79 L488.6 164.79 L489.1 164.79 L489.6 164.79 L490.1 164.79 L490.6 164.79 L491.1 164.79 L491.6 164.79 L492.1 164.79 L492.6 164.79 L493.1 164.79 L493.6 164.79 L494.1 164.79 L494.6 164.79 L495.1 164.79 L495.6 164.79 L496.1 164.79 L496.6 164.79 L497.1 164.79 L497.6 164.79 L498.1 164.79 L498.6 164.79 L499.1 164.79 L499.6 164.79 L500.1 164.79 L500.6 164.79 L501.1 164.79 L501.6 164.79 L502.1 164.79 L502.6 164.79 L503.1 164.79 L503.6 164.79 L504.1 164.79 L504.6 164.79 L505.1 164.79 L505.6 164.79 L506.1 164.79 L506.6 164.79 L507.1 164.79 L507.6 164.79 L508.1 164.79 L508.6 164.79 L509.1 164.78 L509.6 164.78 L510.1 164.78 L510.6 164.78 L511.1 164.78 L511.6 164.78 L512.1 164.78 L512.6 164.78 L513.1 164.78 L513.6 164.78 L514.1 164.78 L514.6 164.78 L515.1 164.78 L515.6 164.78 L516.1 164.78 L516.6 164.78 L517.1 164.77 L517.6 164.77 L518.1 164.77 L518.6 164.77 L519.1 164.77 L519.6 164.77 L520.1 164.77 L520.6 164.76 L521.1 164.76 L521.6 164.76 L522.1 164.76 L522.6 164.76 L523.1 164.75 L523.6 164.75 L524.1 164.75 L524.6 164.75 L525.1 164.74 L525.6 164.74 L526.1 164.73 L526.6 164.73 L527.1 164.73 L527.6 164.72 L528.1 164.72 L528.6 164.71 L529.1 164.71 L529.6 164.7 L530.1 164.69 L530.6 164.69 L531.1 164.68 L531.6 164.67 L532.1 164.66 L532.6 164.66 L533.1 164.65 L533.6 164.64 L534.1 164.63 L534.6 164.62 L535.1 164.6 L535.6 164.59 L536.1 164.58 L536.6 164.56 L537.1 164.55 L537.6 164.53 L538.1 164.52 L538.6 164.5 L539.1 164.48 L539.6 164.46 L540.1 164.44 L540.6 164.42 L541.1 164.4 L541.6 164.37 L542.1 164.35 L542.6 164.32 L543.1 164.29 L543.6 164.26 L544.1 164.23 L544.6 164.2 L545.1 164.16 L545.6 164.12 L546.1 164.09 L546.6 164.05 L547.1 164 L547.6 163.96 L548.1 163.91 L548.6 163.86 L549.1 163.81 L549.6 163.76 L550.1 163.7 L550.6 163.64 L551.1 163.58 L551.6 163.51 L552.1 163.44 L552.6 163.37 L553.1 163.3 L553.6 163.22 L554.1 163.14 L554.6 163.06 L555.1 162.97 L555.6 162.88 L556.1 162.78 L556.6 162.68 L557.1 162.58 L557.6 162.47 L558.1 162.36 L558.6 162.24 L559.1 162.12 L559.6 162 L560.1 161.86 L560.6 161.73 L561.1 161.59 L561.6 161.44 L562.1 161.29 L562.6 161.14 L563.1 160.98 L563.6 160.81 L564.1 160.64 L564.6 160.46 L565.1 160.27 L565.6 160.08 L566.1 159.89 L566.6 159.68 L567.1 159.47 L567.6 159.26 L568.1 159.04 L568.6 158.81 L569.1 158.57 L569.6 158.33 L570.1 158.08 L570.6 157.83 L571.1 157.57 L571.6 157.3 L572.1 157.02 L572.6 156.74 L573.1 156.45 L573.6 156.15 L574.1 155.85 L574.6 155.54 L575.1 155.22 L575.6 154.89 L576.1 154.56 L576.6 154.22 L577.1 153.88 L577.6 153.52 L578.1 153.16 L578.6 152.8 L579.1 152.42 L579.6 152.04 L580.1 151.66 L580.6 151.26 L581.1 150.86 L581.6 150.46 L582.1 150.05 L582.6 149.63 L583.1 149.21 L583.6 148.78 L584.1 148.34 L584.6 147.91 L585.1 147.46 L585.6 147.01 L586.1 146.56 L586.6 146.1 L587.1 145.64 L587.6 145.18 L588.1 144.71 L588.6 144.24 L589.1 143.77 L589.6 143.29 L590.1 142.81 L590.6 142.33 L591.1 141.85 L591.6 141.37 L592.1 140.88 L592.6 140.4 L593.1 139.91 L593.6 139.43 L594.1 138.95 L594.6 138.47 L595.1 137.99 L595.6 137.51 L596.1 137.03 L596.6 136.56 L597.1 136.09 L597.6 135.63 L598.1 135.16 L598.6 134.71 L599.1 134.25 L599.6 133.81 L600.1 133.37 L600.6 132.93 L601.1 132.5 L601.6 132.08 L602.1 131.67 L602.6 131.26 L603.1 130.87 L603.6 130.48 L604.1 130.1 L604.6 129.73 L605.1 129.37 L605.6 129.02 L606.1 128.69 L606.6 128.36 L607.1 128.04 L607.6 127.74 L608.1 127.45 L608.6 127.17 L609.1 126.9 L609.6 126.65 L610.1 126.41 L610.6 126.19 L611.1 125.97 L611.6 125.78 L612.1 125.59 L612.6 125.42 L613.1 125.27 L613.6 125.13 L614.1 125.01 L614.6 124.9 L615.1 124.81 L615.6 124.73 L616.1 124.67 L616.6 124.62 L617.1 124.59 L617.6 124.58 L618.1 124.58 L618.6 124.6 L619.1 124.63 L619.6 124.68 L620.1 124.74 L620.6 124.82 L621.1 124.92 L621.6 125.03 L622.1 125.16 L622.6 125.3 L623.1 125.46 L623.6 125.63 L624.1 125.81 L624.6 126.01 L625.1 126.23 L625.6 126.46 L626.1 126.7 L626.6 126.96 L627.1 127.22 L627.6 127.51 L628.1 127.8 L628.6 128.11 L629.1 128.42 L629.6 128.75 L630.1 129.09 L630.6 129.44 L631.1 129.8 L631.6 130.18 L632.1 130.56 L632.6 130.95 L633.1 131.35 L633.6 131.75 L634.1 132.17 L634.6 132.59 L635.1 133.02 L635.6 133.45 L636.1 133.9 L636.6 134.34 L637.1 134.8 L637.6 135.26 L638.1 135.72 L638.6 136.19 L639.1 136.66 L639.6 137.13 L640.1 137.6 L640.6 138.08 L641.1 138.56 L641.6 139.05 L642.1 139.53 L642.6 140.01 L643.1 140.5 L643.6 140.98 L644.1 141.46 L644.6 141.95 L645.1 142.43 L645.6 142.91 L646.1 143.38 L646.6 143.86 L647.1 144.33 L647.6 144.8 L648.1 145.27 L648.6 145.74 L649.1 146.2 L649.6 146.65 L650.1 147.1 L650.6 147.55 L651.1 147.99 L651.6 148.43 L652.1 148.86 L652.6 149.29 L653.1 149.71 L653.6 150.13 L654.1 150.54 L654.6 150.94 L655.1 151.34 L655.6 151.73 L656.1 152.12 L656.6 152.5 L657.1 152.87 L657.6 153.24 L658.1 153.59 L658.6 153.95 L659.1 154.29 L659.6 154.63 L660.1 154.96 L660.6 155.28 L661.1 155.6 L661.6 155.91 L662.1 156.21 L662.6 156.51 L663.1 156.8 L663.6 157.08 L664.1 157.35 L664.6 157.62 L665.1 157.88 L665.6 158.13 L666.1 158.38 L666.6 158.62 L667.1 158.86 L667.6 159.08 L668.1 159.3 L668.6 159.52 L669.1 159.72 L669.6 159.93 L670.1 160.12 L670.6 160.31 L671.1 160.49 L671.6 160.67 L672.1 160.84 L672.6 161.01 L673.1 161.17 L673.6 161.32 L674.1 161.47 L674.6 161.62 L675.1 161.76 L675.6 161.89 L676.1 162.02 L676.6 162.15 L677.1 162.27 L677.6 162.38 L678.1 162.49 L678.6 162.6 L679.1 162.7 L679.6 162.8 L680.1 162.9 L680.6 162.99 L681.1 163.07 L681.6 163.16 L682.1 163.24 L682.6 163.31 L683.1 163.39 L683.6 163.46 L684.1 163.53 L684.6 163.59 L685.1 163.65 L685.6 163.71 L686.1 163.77 L686.6 163.82 L687.1 163.87 L687.6 163.92 L688.1 163.97 L688.6 164.01 L689.1 164.05 L689.6 164.09 L690.1 164.13 L690.6 164.17 L691.1 164.2 L691.6 164.24 L692.1 164.27 L692.6 164.3 L693.1 164.33 L693.6 164.35 L694.1 164.38 L694.6 164.4 L695.1 164.42 L695.6 164.45 L696.1 164.47 L696.6 164.49 L697.1 164.5 L697.6 164.52 L698.1 164.54 L698.6 164.55 L699.1 164.57 L699.6 164.58 L700.1 164.59 L700.6 164.61 L701.1 164.62 L701.6 164.63 L702.1 164.64 L702.6 164.65 L703.1 164.66 L703.6 164.67 L704.1 164.67 L704.6 164.68 L705.1 164.69 L705.6 164.7 L706.1 164.7 L706.6 164.71 L707.1 164.71 L707.6 164.72 L708.1 164.72 L708.6 164.73 L709.1 164.73 L709.6 164.74 L710.1 164.74 L710.6 164.74 L711.1 164.75 L711.6 164.75 L712.1 164.75 L712.6 164.75 L713.1 164.76 L713.6 164.76 L714.1 164.76 L714.6 164.76 L715.1 164.77 L715.6 164.77 L716.1 164.77 L716.6 164.77 L717.1 164.77 L717.6 164.77 L718.1 164.77 L718.6 164.77 L719.1 164.78 L719.6 164.78 L720.1 164.78 L720.6 164.78 L721.1 164.78 L721.6 164.78 L722.1 164.78 L722.6 164.78 L723.1 164.78 L723.6 164.78 L724.1 164.78 L724.6 164.78 L725.1 164.78 L725.6 164.78 L726.1 164.78 L726.6 164.78 L727.1 164.79 L727.6 164.79 L728.1 164.79 L728.6 164.79 L729.1 164.79 L729.6 164.79 L730.1 164.79 L730.6 164.79 L731.1 164.79 L731.6 164.79 L732.1 164.79 L732.6 164.79 L733.1 164.79 L733.6 164.79 L734.1 164.79 L734.6 164.79 L735.1 164.79 L735.6 164.79 L736.1 164.79 L736.6 164.79 L737.1 164.79 L737.6 164.79 L738.1 164.79 L738.6 164.79 L739.1 164.79 L739.6 164.79 L740.1 164.79 L740.6 164.79 L741.1 164.79 L741.6 164.79 L742.1 164.79 L742.6 164.79 L743.1 164.79 L743.6 164.79 L744.1 164.79 L744.6 164.79 L745.1 164.79 L745.6 164.79 L746.1 164.79 L746.6 164.79 L747.1 164.79 L747.6 164.79 L748.1 164.79 L748.6 164.79 L749.1 164.79 L749.6 164.79 L750.1 164.79 L750.6 164.79 L751.1 164.79 L751.6 164.79 L752.1 164.79 L752.6 164.79 L753.1 164.79 L753.6 164.79 L754.1 164.79 L754.6 164.79 L755.1 164.79 L755.6 164.79 L756.1 164.79 L756.6 164.79 L757.1 164.79 L757.6 164.79 L758.1 164.79 L758.6 164.79 L759.1 164.79 L759.6 164.79 L760.1 164.79 L760.6 164.79 L761.1 164.79 L761.6 164.79 L762.1 164.79 L762.6 164.79 L763.1 164.79 L763.6 164.79 L764.1 164.79 L764.6 164.79 L765.1 164.79 L765.6 164.79 L766.1 164.79 L766.6 164.79 L767.1 164.79 L767.6 164.79 L768.1 164.79 L768.6 164.79 L769.1 164.79 L769.6 164.79 L770.1 164.79 L770.6 164.79 L771.1 164.79 L771.6 164.79 L772.1 164.79 L772.6 164.79 L773.1 164.79 L773.6 164.79 L774.1 164.79 L774.6 164.79 L775.1 164.79 L775.6 164.79 L776.1 164.79 L776.6 164.79 L777.1 164.79 L777.6 164.79 L778.1 164.79 L778.6 164.79 L779.1 164.79 L779.6 164.79 L780.1 164.79 L780.6 164.79 L781.1 164.79 L781.6 164.79 L782.1 164.79 L782.6 164.79 L783.1 164.79 L783.6 164.79 L784.1 164.79 L784.6 164.79 L785.1 164.79 L785.6 164.79 L786.1 164.79 L786.6 164.79 L787.1 164.79 L787.6 164.79 L788.1 164.79 L788.6 164.79 L789.1 164.79 L789.6 164.79 L790.1 164.79 L790.6 164.79 L791.1 164.79 L791.6 164.79 L792.1 164.79 L792.6 164.79 L793.1 164.79 L793.6 164.79 L794.1 164.79 L794.6 164.79 L795.1 164.79 L795.6 164.79 L796.1 164.79 L796.6 164.79 L797.1 164.79 L797.6 164.79 L798.1 164.79 L798.6 164.79 L799.1 164.79 L799.6 164.79 L800.1 164.79 L800.6 164.79 L801.1 164.79 L801.6 164.79 L802.1 164.79 L802.6 164.79 L803.1 164.79 L803.6 164.79 L804.1 164.79 L804.6 164.79 L805.1 164.79 L805.6 164.79" stroke="#0a84ff" stroke-width="2.3" stroke-dasharray="6.2 2.4 1.8 2.4" stroke-dashoffset="9.12"/>
</g>
<g clip-path="url(#r399)" fill="none" stroke-linejoin="round">
<path d="M641.5 180.3 V229.6" stroke="#8e8e8e" stroke-width="1" stroke-dasharray="5.5 5.3"/>
<path d="M465.6 204.9 H805.7" stroke="#b2b2b2" stroke-width="1.35" stroke-dasharray="5.2 5"/>
<path d="M465.6 204.9 L466.1 204.9 L466.6 204.9 L467.1 204.9 L467.6 204.9 L468.1 204.9 L468.6 204.9 L469.1 204.9 L469.6 204.9 L470.1 204.9 L470.6 204.9 L471.1 204.9 L471.6 204.9 L472.1 204.9 L472.6 204.9 L473.1 204.9 L473.6 204.9 L474.1 204.9 L474.6 204.9 L475.1 204.9 L475.6 204.9 L476.1 204.9 L476.6 204.9 L477.1 204.9 L477.6 204.9 L478.1 204.9 L478.6 204.9 L479.1 204.9 L479.6 204.9 L480.1 204.9 L480.6 204.9 L481.1 204.9 L481.6 204.9 L482.1 204.9 L482.6 204.9 L483.1 204.9 L483.6 204.9 L484.1 204.9 L484.6 204.9 L485.1 204.9 L485.6 204.9 L486.1 204.9 L486.6 204.9 L487.1 204.9 L487.6 204.9 L488.1 204.9 L488.6 204.9 L489.1 204.9 L489.6 204.9 L490.1 204.9 L490.6 204.9 L491.1 204.9 L491.6 204.9 L492.1 204.9 L492.6 204.9 L493.1 204.9 L493.6 204.9 L494.1 204.9 L494.6 204.9 L495.1 204.9 L495.6 204.9 L496.1 204.9 L496.6 204.9 L497.1 204.9 L497.6 204.9 L498.1 204.9 L498.6 204.9 L499.1 204.9 L499.6 204.9 L500.1 204.9 L500.6 204.9 L501.1 204.9 L501.6 204.9 L502.1 204.9 L502.6 204.9 L503.1 204.9 L503.6 204.9 L504.1 204.9 L504.6 204.9 L505.1 204.9 L505.6 204.9 L506.1 204.9 L506.6 204.9 L507.1 204.9 L507.6 204.9 L508.1 204.9 L508.6 204.9 L509.1 204.9 L509.6 204.9 L510.1 204.9 L510.6 204.9 L511.1 204.9 L511.6 204.9 L512.1 204.9 L512.6 204.9 L513.1 204.9 L513.6 204.9 L514.1 204.9 L514.6 204.9 L515.1 204.9 L515.6 204.9 L516.1 204.9 L516.6 204.9 L517.1 204.9 L517.6 204.9 L518.1 204.9 L518.6 204.9 L519.1 204.9 L519.6 204.9 L520.1 204.9 L520.6 204.9 L521.1 204.9 L521.6 204.9 L522.1 204.9 L522.6 204.9 L523.1 204.9 L523.6 204.9 L524.1 204.9 L524.6 204.9 L525.1 204.9 L525.6 204.9 L526.1 204.9 L526.6 204.9 L527.1 204.9 L527.6 204.9 L528.1 204.9 L528.6 204.9 L529.1 204.9 L529.6 204.9 L530.1 204.9 L530.6 204.9 L531.1 204.9 L531.6 204.9 L532.1 204.9 L532.6 204.9 L533.1 204.9 L533.6 204.9 L534.1 204.9 L534.6 204.9 L535.1 204.9 L535.6 204.9 L536.1 204.9 L536.6 204.9 L537.1 204.9 L537.6 204.9 L538.1 204.9 L538.6 204.9 L539.1 204.9 L539.6 204.9 L540.1 204.9 L540.6 204.9 L541.1 204.9 L541.6 204.9 L542.1 204.9 L542.6 204.9 L543.1 204.9 L543.6 204.9 L544.1 204.9 L544.6 204.9 L545.1 204.9 L545.6 204.9 L546.1 204.9 L546.6 204.9 L547.1 204.9 L547.6 204.9 L548.1 204.9 L548.6 204.9 L549.1 204.9 L549.6 204.9 L550.1 204.9 L550.6 204.9 L551.1 204.9 L551.6 204.9 L552.1 204.9 L552.6 204.9 L553.1 204.9 L553.6 204.9 L554.1 204.9 L554.6 204.9 L555.1 204.9 L555.6 204.9 L556.1 204.9 L556.6 204.9 L557.1 204.9 L557.6 204.9 L558.1 204.9 L558.6 204.9 L559.1 204.9 L559.6 204.9 L560.1 204.9 L560.6 204.9 L561.1 204.9 L561.6 204.9 L562.1 204.9 L562.6 204.9 L563.1 204.9 L563.6 204.9 L564.1 204.9 L564.6 204.9 L565.1 204.9 L565.6 204.9 L566.1 204.9 L566.6 204.9 L567.1 204.9 L567.6 204.9 L568.1 204.9 L568.6 204.9 L569.1 204.9 L569.6 204.9 L570.1 204.9 L570.6 204.9 L571.1 204.9 L571.6 204.9 L572.1 204.9 L572.6 204.9 L573.1 204.9 L573.6 204.9 L574.1 204.9 L574.6 204.9 L575.1 204.9 L575.6 204.9 L576.1 204.9 L576.6 204.9 L577.1 204.9 L577.6 204.9 L578.1 204.9 L578.6 204.9 L579.1 204.9 L579.6 204.9 L580.1 204.9 L580.6 204.9 L581.1 204.9 L581.6 204.9 L582.1 204.9 L582.6 204.9 L583.1 204.9 L583.6 204.9 L584.1 204.9 L584.6 204.91 L585.1 204.93 L585.6 204.98 L586.1 205.1 L586.6 205.33 L587.1 205.78 L587.6 206.6 L588.1 207.99 L588.6 210.24 L589.1 213.65 L589.6 218.51 L590.1 225.07 L590.6 233.44 L591.1 235.6 L591.6 235.6 L592.1 235.6 L592.6 235.6 L593.1 235.6 L593.6 235.6 L594.1 235.6 L594.6 235.6 L595.1 235.6 L595.6 235.6 L596.1 235.6 L596.6 235.6 L597.1 235.6 L597.6 235.6 L598.1 235.6 L598.6 235.6 L599.1 235.6 L599.6 235.6 L600.1 235.6 L600.6 235.6 L601.1 235.6 L601.6 235.6 L602.1 235.6 L602.6 235.6 L603.1 235.33 L603.6 226.6 L604.1 219.68 L604.6 214.49 L605.1 210.82 L605.6 208.37 L606.1 206.82 L606.6 205.91 L607.1 205.4 L607.6 205.13 L608.1 205 L608.6 204.94 L609.1 204.92 L609.6 204.91 L610.1 204.9 L610.6 204.9 L611.1 204.9 L611.6 204.9 L612.1 204.9 L612.6 204.9 L613.1 204.9 L613.6 204.9 L614.1 204.9 L614.6 204.9 L615.1 204.9 L615.6 204.9 L616.1 204.9 L616.6 204.9 L617.1 204.9 L617.6 204.9 L618.1 204.9 L618.6 204.9 L619.1 204.9 L619.6 204.9 L620.1 204.9 L620.6 204.9 L621.1 204.9 L621.6 204.9 L622.1 204.9 L622.6 204.9 L623.1 204.9 L623.6 204.9 L624.1 204.9 L624.6 204.9 L625.1 204.9 L625.6 204.9 L626.1 204.9 L626.6 204.9 L627.1 204.9 L627.6 204.9 L628.1 204.9 L628.6 204.9 L629.1 204.9 L629.6 204.9 L630.1 204.9 L630.6 204.9 L631.1 204.9 L631.6 204.9 L632.1 204.9 L632.6 204.9 L633.1 204.9 L633.6 204.9 L634.1 204.9 L634.6 204.9 L635.1 204.9 L635.6 204.9 L636.1 204.9 L636.6 204.9 L637.1 204.9 L637.6 204.9 L638.1 204.9 L638.6 204.9 L639.1 204.9 L639.6 204.9 L640.1 204.9 L640.6 204.9 L641.1 204.9 L641.6 204.9 L642.1 204.9 L642.6 204.91 L643.1 204.93 L643.6 204.96 L644.1 205.04 L644.6 205.2 L645.1 205.53 L645.6 206.14 L646.1 207.21 L646.6 209.01 L647.1 211.82 L647.6 215.97 L648.1 221.72 L648.6 229.17 L649.1 235.6 L649.6 235.6 L650.1 235.6 L650.6 235.6 L651.1 235.6 L651.6 235.6 L652.1 235.6 L652.6 235.6 L653.1 235.6 L653.6 235.6 L654.1 235.6 L654.6 235.6 L655.1 230.87 L655.6 223.11 L656.1 217.06 L656.6 212.68 L657.1 209.76 L657.6 208.02 L658.1 207.21 L658.6 207.16 L659.1 207.8 L659.6 209.19 L660.1 211.45 L660.6 214.84 L661.1 219.66 L661.6 226.26 L662.1 234.98 L662.6 235.6 L663.1 235.6 L663.6 235.6 L664.1 235.6 L664.6 235.6 L665.1 235.6 L665.6 235.6 L666.1 235.6 L666.6 235.6 L667.1 235.6 L667.6 235.6 L668.1 235.6 L668.6 235.6 L669.1 235.6 L669.6 235.6 L670.1 235.6 L670.6 235.6 L671.1 235.6 L671.6 235.6 L672.1 235.6 L672.6 235.6 L673.1 235.6 L673.6 235.6 L674.1 234.98 L674.6 226.25 L675.1 219.65 L675.6 214.81 L676.1 211.38 L676.6 209.02 L677.1 207.45 L677.6 206.44 L678.1 205.8 L678.6 205.41 L679.1 205.18 L679.6 205.05 L680.1 204.98 L680.6 204.94 L681.1 204.92 L681.6 204.91 L682.1 204.9 L682.6 204.9 L683.1 204.9 L683.6 204.9 L684.1 204.9 L684.6 204.9 L685.1 204.9 L685.6 204.9 L686.1 204.9 L686.6 204.9 L687.1 204.9 L687.6 204.9 L688.1 204.9 L688.6 204.9 L689.1 204.9 L689.6 204.9 L690.1 204.9 L690.6 204.9 L691.1 204.9 L691.6 204.9 L692.1 204.9 L692.6 204.9 L693.1 204.9 L693.6 204.9 L694.1 204.9 L694.6 204.9 L695.1 204.9 L695.6 204.9 L696.1 204.9 L696.6 204.9 L697.1 204.9 L697.6 204.9 L698.1 204.9 L698.6 204.9 L699.1 204.9 L699.6 204.9 L700.1 204.9 L700.6 204.9 L701.1 204.9 L701.6 204.9 L702.1 204.9 L702.6 204.9 L703.1 204.9 L703.6 204.9 L704.1 204.9 L704.6 204.9 L705.1 204.9 L705.6 204.9 L706.1 204.9 L706.6 204.9 L707.1 204.9 L707.6 204.9 L708.1 204.9 L708.6 204.9 L709.1 204.9 L709.6 204.9 L710.1 204.9 L710.6 204.9 L711.1 204.9 L711.6 204.9 L712.1 204.9 L712.6 204.9 L713.1 204.9 L713.6 204.9 L714.1 204.9 L714.6 204.9 L715.1 204.9 L715.6 204.9 L716.1 204.9 L716.6 204.9 L717.1 204.9 L717.6 204.9 L718.1 204.9 L718.6 204.9 L719.1 204.9 L719.6 204.9 L720.1 204.9 L720.6 204.9 L721.1 204.9 L721.6 204.9 L722.1 204.9 L722.6 204.9 L723.1 204.9 L723.6 204.9 L724.1 204.9 L724.6 204.9 L725.1 204.9 L725.6 204.9 L726.1 204.9 L726.6 204.9 L727.1 204.9 L727.6 204.9 L728.1 204.9 L728.6 204.9 L729.1 204.9 L729.6 204.9 L730.1 204.9 L730.6 204.9 L731.1 204.9 L731.6 204.9 L732.1 204.9 L732.6 204.9 L733.1 204.9 L733.6 204.9 L734.1 204.9 L734.6 204.9 L735.1 204.9 L735.6 204.9 L736.1 204.9 L736.6 204.9 L737.1 204.9 L737.6 204.9 L738.1 204.9 L738.6 204.9 L739.1 204.9 L739.6 204.9 L740.1 204.9 L740.6 204.9 L741.1 204.9 L741.6 204.9 L742.1 204.9 L742.6 204.9 L743.1 204.9 L743.6 204.9 L744.1 204.9 L744.6 204.9 L745.1 204.9 L745.6 204.9 L746.1 204.9 L746.6 204.9 L747.1 204.9 L747.6 204.9 L748.1 204.9 L748.6 204.9 L749.1 204.9 L749.6 204.9 L750.1 204.9 L750.6 204.9 L751.1 204.9 L751.6 204.9 L752.1 204.9 L752.6 204.9 L753.1 204.9 L753.6 204.9 L754.1 204.9 L754.6 204.9 L755.1 204.9 L755.6 204.9 L756.1 204.9 L756.6 204.9 L757.1 204.9 L757.6 204.9 L758.1 204.9 L758.6 204.9 L759.1 204.9 L759.6 204.9 L760.1 204.9 L760.6 204.9 L761.1 204.9 L761.6 204.9 L762.1 204.9 L762.6 204.9 L763.1 204.9 L763.6 204.9 L764.1 204.9 L764.6 204.9 L765.1 204.9 L765.6 204.9 L766.1 204.9 L766.6 204.9 L767.1 204.9 L767.6 204.9 L768.1 204.9 L768.6 204.9 L769.1 204.9 L769.6 204.9 L770.1 204.9 L770.6 204.9 L771.1 204.9 L771.6 204.9 L772.1 204.9 L772.6 204.9 L773.1 204.9 L773.6 204.9 L774.1 204.9 L774.6 204.9 L775.1 204.9 L775.6 204.9 L776.1 204.9 L776.6 204.9 L777.1 204.9 L777.6 204.9 L778.1 204.9 L778.6 204.9 L779.1 204.9 L779.6 204.9 L780.1 204.9 L780.6 204.9 L781.1 204.9 L781.6 204.9 L782.1 204.9 L782.6 204.9 L783.1 204.9 L783.6 204.9 L784.1 204.9 L784.6 204.9 L785.1 204.9 L785.6 204.9 L786.1 204.9 L786.6 204.9 L787.1 204.9 L787.6 204.9 L788.1 204.9 L788.6 204.9 L789.1 204.9 L789.6 204.9 L790.1 204.9 L790.6 204.9 L791.1 204.9 L791.6 204.9 L792.1 204.9 L792.6 204.9 L793.1 204.9 L793.6 204.9 L794.1 204.9 L794.6 204.9 L795.1 204.9 L795.6 204.9 L796.1 204.9 L796.6 204.9 L797.1 204.9 L797.6 204.9 L798.1 204.9 L798.6 204.9 L799.1 204.9 L799.6 204.9 L800.1 204.9 L800.6 204.9 L801.1 204.9 L801.6 204.9 L802.1 204.9 L802.6 204.9 L803.1 204.9 L803.6 204.9 L804.1 204.9 L804.6 204.9 L805.1 204.9 L805.6 204.9" stroke="#ff4a2a" stroke-width="0.55"/>
<path d="M465.6 186.1 L468.4 189.7 L471.6 182.9 L474.5 186.1 L478.1 195.5 L481 199.1 L484.3 192.2 L487.2 194.8 L488.9 203.5 L491.1 211.3 L494 214.2 L496.9 214.6 L499.8 219.1 L501.9 229.5 L505.9 246 L509.9 229.5 L512.3 222.7 L514.7 198.3 L520.7 204.2 L527.2 210.7 L530.8 197.7 L533.4 210.7 L536.6 193.3 L539.5 194.1 L543.1 201.5 L546.3 218.4 L548.6 213.4 L552.5 193.3 L556.1 203.5 L559 206.4 L561.9 198.4 L564.8 201.3 L567.7 209.3 L570 207.1 L573.9 206.6 L577.3 223.8 L583 205.9 L585.9 209.2 L589.5 193.3 L592.4 194.1 L596 212.6 L598.9 194.1 L602.1 215.4 L605.4 197.7 L609 186.1 L611.6 184 L613.4 204 L615.9 212.4 L620.3 205.1 L623.2 212 L625.7 208.5 L628.9 208.8 L632.9 224.2 L636.5 219.9 L640.8 197 L645.2 180.3 L648.8 194.8 L653.1 213.6 L654.6 218.4 L657.5 202 L660.8 191.2 L664 207.3 L667 200.1 L673.4 211.7 L677 202.2 L679.9 208.4 L682.8 203 L687.1 210.6 L689.6 209.5 L692.2 198.4 L694.3 199.1 L698 202.7 L700.1 203.5 L703.7 198 L707.3 202.7 L710.2 198.1 L711.7 210.5 L713.4 222 L716 214.8 L719.6 213.1 L722.5 204.8 L725.4 206.4 L728.7 202 L731.6 190.2 L734.8 205.6 L737.7 191.2 L740.9 192.6 L744.2 202.7 L747.1 199.1 L750 202 L753.6 213.1 L759.4 214.4 L762.3 208.5 L765.2 204.1 L768.8 211.3 L774.2 209.1 L778.5 203 L781.3 205.2 L784.7 217.2 L787.6 220.9 L790.5 216 L793.8 209.1 L796.5 217.3 L798.4 213.6 L800.4 205.5 L804.2 210.6 L805.7 217.7" stroke="#303030" stroke-width="0.72"/>
</g>
<rect x="465.6" y="21.6" width="340.1" height="155.6" fill="none" stroke="#6a6a6a" stroke-width="1"/>
<rect x="465.6" y="179.6" width="340.1" height="50" fill="none" stroke="#6a6a6a" stroke-width="1"/>
<text transform="translate(464.8 17.1) scale(1.14 1)" text-anchor="middle" font-size="9.6" letter-spacing="0.05" >1340</text>
<text transform="translate(526.5 17.1) scale(1.14 1)" text-anchor="middle" font-size="9.6" letter-spacing="0.05" >1360</text>
<text transform="translate(588.6 17.1) scale(1.14 1)" text-anchor="middle" font-size="9.6" letter-spacing="0.05" >1380</text>
<text transform="translate(650.7 17.1) scale(1.14 1)" text-anchor="middle" font-size="9.6" letter-spacing="0.05" >1400</text>
<text transform="translate(712.8 17.1) scale(1.14 1)" text-anchor="middle" font-size="9.6" letter-spacing="0.05" >1420</text>
<text transform="translate(774.9 17.1) scale(1.14 1)" text-anchor="middle" font-size="9.6" letter-spacing="0.05" >1440</text>
<text transform="translate(497.3 244.6) scale(1.14 1)" text-anchor="middle" font-size="9.6" letter-spacing="0.05" ><tspan font-size="11" letter-spacing="0.9">−</tspan>10000</text>
<text transform="translate(569.65 244.6) scale(1.14 1)" text-anchor="middle" font-size="9.6" letter-spacing="0.05" ><tspan font-size="11" letter-spacing="0.9">−</tspan>5000</text>
<text transform="translate(641 244.6) scale(1.14 1)" text-anchor="middle" font-size="9.6" letter-spacing="0.05" >0</text>
<text transform="translate(713.35 244.6) scale(1.14 1)" text-anchor="middle" font-size="9.6" letter-spacing="0.05" >5000</text>
<text transform="translate(785.7 244.6) scale(1.14 1)" text-anchor="middle" font-size="9.6" letter-spacing="0.05" >10000</text>
<text transform="translate(460.6 168.2) scale(1.14 1)" text-anchor="end" font-size="9.6" letter-spacing="0.05" >0.0</text>
<text transform="translate(460.6 127.5) scale(1.14 1)" text-anchor="end" font-size="9.6" letter-spacing="0.05" >0.1</text>
<text transform="translate(460.6 86.8) scale(1.14 1)" text-anchor="end" font-size="9.6" letter-spacing="0.05" >0.2</text>
<text transform="translate(460.6 46.1) scale(1.14 1)" text-anchor="end" font-size="9.6" letter-spacing="0.05" >0.3</text>
<text transform="translate(461.3 195.7) scale(1.14 1)" text-anchor="end" font-size="9.6" letter-spacing="0.05" >0.02</text>
<text transform="translate(461.3 208.7) scale(1.14 1)" text-anchor="end" font-size="9.6" letter-spacing="0.05" >0.00</text>
<text transform="translate(461.3 221.7) scale(1.14 1)" text-anchor="end" font-size="9.6" letter-spacing="0.05" ><tspan font-size="11" letter-spacing="0.9">−</tspan>0.02</text>
<text transform="translate(635.65 6.9) scale(1.24 1)" text-anchor="middle" font-size="9.0" letter-spacing="0.1" word-spacing="1.2">Rest Frame λ (A)</text>
<text transform="translate(635.45 257.3) scale(1.24 1)" text-anchor="middle" font-size="9.0" letter-spacing="0.25" >Δv (km s<tspan font-size="5.8" dy="-3.4" letter-spacing="0.2">−1</tspan><tspan dy="3.4">)</tspan></text>
<text transform="translate(751.3 50.3) scale(1.14 1)" text-anchor="middle" font-size="9.8" letter-spacing="0.3" ><tspan font-size="12" dy="0.6">(</tspan><tspan dy="-0.6">b</tspan><tspan font-size="12" dy="0.6">)</tspan></text>
</svg>
</body></html>
